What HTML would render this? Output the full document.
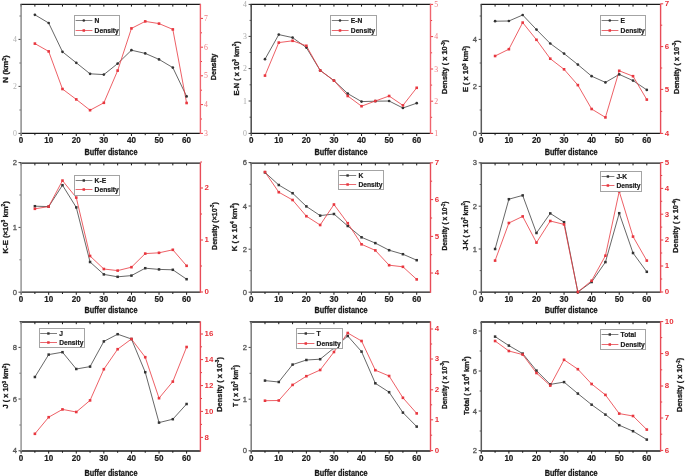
<!DOCTYPE html>
<html><head><meta charset="utf-8"><title>Buffer distance charts</title>
<style>
html,body{margin:0;padding:0;background:#fff;}
body{width:685px;height:476px;overflow:hidden;}
svg{display:block;will-change:transform;}
text{font-family:'Liberation Sans', sans-serif;}
.xt{font-size:8.8px;font-weight:bold;text-anchor:middle;fill:#1a1a1a;stroke:#1a1a1a;stroke-width:0.2px;}
.lt{font-size:7.6px;text-anchor:end;stroke-width:0.3px;}
.lts{font-size:7.8px;text-anchor:end;font-family:'Liberation Serif',serif;}
.rt{font-size:7.9px;font-weight:bold;text-anchor:start;}
.rts{font-size:7.8px;text-anchor:start;font-family:'Liberation Serif',serif;}
.lg{font-size:6.7px;font-weight:bold;fill:#1a1a1a;stroke:#1a1a1a;stroke-width:0.2px;}
.xl{font-size:8.2px;font-weight:bold;text-anchor:middle;fill:#1a1a1a;stroke:#1a1a1a;stroke-width:0.3px;}
.yt{font-weight:bold;text-anchor:middle;fill:#1a1a1a;stroke:#1a1a1a;stroke-width:0.3px;}
</style></head>
<body><svg width="685" height="476" viewBox="0 0 685 476">
<rect width="685" height="476" fill="#fff"/>
<g><line x1="21.1" y1="133.4" x2="21.1" y2="136" stroke="#1a1a1a" stroke-width="1"/>
<line x1="21.1" y1="4.4" x2="21.1" y2="6.6" stroke="#1a1a1a" stroke-width="1"/>
<text x="21.1" y="142.9" class="xt" textLength="4.5" lengthAdjust="spacingAndGlyphs">0</text>
<line x1="34.89" y1="133.4" x2="34.89" y2="135.2" stroke="#1a1a1a" stroke-width="1"/>
<line x1="34.89" y1="4.4" x2="34.89" y2="6.6" stroke="#1a1a1a" stroke-width="1"/>
<line x1="48.68" y1="133.4" x2="48.68" y2="136" stroke="#1a1a1a" stroke-width="1"/>
<line x1="48.68" y1="4.4" x2="48.68" y2="6.6" stroke="#1a1a1a" stroke-width="1"/>
<text x="48.68" y="142.9" class="xt" textLength="9" lengthAdjust="spacingAndGlyphs">10</text>
<line x1="62.48" y1="133.4" x2="62.48" y2="135.2" stroke="#1a1a1a" stroke-width="1"/>
<line x1="62.48" y1="4.4" x2="62.48" y2="6.6" stroke="#1a1a1a" stroke-width="1"/>
<line x1="76.27" y1="133.4" x2="76.27" y2="136" stroke="#1a1a1a" stroke-width="1"/>
<line x1="76.27" y1="4.4" x2="76.27" y2="6.6" stroke="#1a1a1a" stroke-width="1"/>
<text x="76.27" y="142.9" class="xt" textLength="9" lengthAdjust="spacingAndGlyphs">20</text>
<line x1="90.06" y1="133.4" x2="90.06" y2="135.2" stroke="#1a1a1a" stroke-width="1"/>
<line x1="90.06" y1="4.4" x2="90.06" y2="6.6" stroke="#1a1a1a" stroke-width="1"/>
<line x1="103.85" y1="133.4" x2="103.85" y2="136" stroke="#1a1a1a" stroke-width="1"/>
<line x1="103.85" y1="4.4" x2="103.85" y2="6.6" stroke="#1a1a1a" stroke-width="1"/>
<text x="103.85" y="142.9" class="xt" textLength="9" lengthAdjust="spacingAndGlyphs">30</text>
<line x1="117.65" y1="133.4" x2="117.65" y2="135.2" stroke="#1a1a1a" stroke-width="1"/>
<line x1="117.65" y1="4.4" x2="117.65" y2="6.6" stroke="#1a1a1a" stroke-width="1"/>
<line x1="131.44" y1="133.4" x2="131.44" y2="136" stroke="#1a1a1a" stroke-width="1"/>
<line x1="131.44" y1="4.4" x2="131.44" y2="6.6" stroke="#1a1a1a" stroke-width="1"/>
<text x="131.44" y="142.9" class="xt" textLength="9" lengthAdjust="spacingAndGlyphs">40</text>
<line x1="145.23" y1="133.4" x2="145.23" y2="135.2" stroke="#1a1a1a" stroke-width="1"/>
<line x1="145.23" y1="4.4" x2="145.23" y2="6.6" stroke="#1a1a1a" stroke-width="1"/>
<line x1="159.02" y1="133.4" x2="159.02" y2="136" stroke="#1a1a1a" stroke-width="1"/>
<line x1="159.02" y1="4.4" x2="159.02" y2="6.6" stroke="#1a1a1a" stroke-width="1"/>
<text x="159.02" y="142.9" class="xt" textLength="9" lengthAdjust="spacingAndGlyphs">50</text>
<line x1="172.82" y1="133.4" x2="172.82" y2="135.2" stroke="#1a1a1a" stroke-width="1"/>
<line x1="172.82" y1="4.4" x2="172.82" y2="6.6" stroke="#1a1a1a" stroke-width="1"/>
<line x1="186.61" y1="133.4" x2="186.61" y2="136" stroke="#1a1a1a" stroke-width="1"/>
<line x1="186.61" y1="4.4" x2="186.61" y2="6.6" stroke="#1a1a1a" stroke-width="1"/>
<text x="186.61" y="142.9" class="xt" textLength="9" lengthAdjust="spacingAndGlyphs">60</text>
<line x1="18.5" y1="133.4" x2="21.1" y2="133.4" stroke="#444" stroke-width="1"/>
<text x="16.9" y="136" class="lts" fill="#b0b0b0" stroke="none">0</text>
<line x1="18.5" y1="86.4" x2="21.1" y2="86.4" stroke="#444" stroke-width="1"/>
<text x="16.9" y="89" class="lts" fill="#b0b0b0" stroke="none">2</text>
<line x1="18.5" y1="39.4" x2="21.1" y2="39.4" stroke="#444" stroke-width="1"/>
<text x="16.9" y="42" class="lts" fill="#b0b0b0" stroke="none">4</text>
<line x1="19.5" y1="110" x2="21.1" y2="110" stroke="#555" stroke-width="1"/>
<line x1="19.5" y1="63" x2="21.1" y2="63" stroke="#555" stroke-width="1"/>
<line x1="19.5" y1="16" x2="21.1" y2="16" stroke="#555" stroke-width="1"/>
<line x1="200.4" y1="133.4" x2="203" y2="133.4" stroke="#e8373f" stroke-width="1"/>
<text x="204.1" y="135.9" class="rts" fill="#f07a80">3</text>
<line x1="200.4" y1="104.6" x2="203" y2="104.6" stroke="#e8373f" stroke-width="1"/>
<text x="204.1" y="107.1" class="rts" fill="#f07a80">4</text>
<line x1="200.4" y1="75.8" x2="203" y2="75.8" stroke="#e8373f" stroke-width="1"/>
<text x="204.1" y="78.3" class="rts" fill="#f07a80">5</text>
<line x1="200.4" y1="47.2" x2="203" y2="47.2" stroke="#e8373f" stroke-width="1"/>
<text x="204.1" y="49.7" class="rts" fill="#f07a80">6</text>
<line x1="200.4" y1="18.4" x2="203" y2="18.4" stroke="#e8373f" stroke-width="1"/>
<text x="204.1" y="20.9" class="rts" fill="#f07a80">7</text>
<line x1="200.4" y1="119" x2="202" y2="119" stroke="#e8373f" stroke-width="1"/>
<line x1="200.4" y1="90.2" x2="202" y2="90.2" stroke="#e8373f" stroke-width="1"/>
<line x1="200.4" y1="61.5" x2="202" y2="61.5" stroke="#e8373f" stroke-width="1"/>
<line x1="200.4" y1="32.8" x2="202" y2="32.8" stroke="#e8373f" stroke-width="1"/>
<line x1="20.5" y1="133.4" x2="200.4" y2="133.4" stroke="#1a1a1a" stroke-width="1.3"/>
<line x1="20.5" y1="4.4" x2="200.4" y2="4.4" stroke="#1a1a1a" stroke-width="1.3"/>
<line x1="21.1" y1="4.4" x2="21.1" y2="134" stroke="#8c8c8c" stroke-width="1.5"/>
<line x1="200.4" y1="3.8" x2="200.4" y2="134" stroke="#f0646e" stroke-width="1.4"/>
<polyline points="34.89,14.8 48.68,23 62.48,51.8 76.27,62.8 90.06,73.8 103.85,74.6 117.65,63.6 131.44,50.2 145.23,53.4 159.02,59.4 172.82,67.6 186.61,96.4" fill="none" stroke="#404040" stroke-width="0.8"/>
<polyline points="34.89,43.6 48.68,51.4 62.48,89 76.27,99.4 90.06,110.2 103.85,102.8 117.65,70.6 131.44,28.4 145.23,21.4 159.02,23.6 172.82,29.4 186.61,103" fill="none" stroke="#e8373f" stroke-width="0.8"/>
<circle cx="34.89" cy="14.8" r="1.35" fill="#333"/>
<circle cx="48.68" cy="23" r="1.35" fill="#333"/>
<circle cx="62.48" cy="51.8" r="1.35" fill="#333"/>
<circle cx="76.27" cy="62.8" r="1.35" fill="#333"/>
<circle cx="90.06" cy="73.8" r="1.35" fill="#333"/>
<circle cx="103.85" cy="74.6" r="1.35" fill="#333"/>
<circle cx="117.65" cy="63.6" r="1.35" fill="#333"/>
<circle cx="131.44" cy="50.2" r="1.35" fill="#333"/>
<circle cx="145.23" cy="53.4" r="1.35" fill="#333"/>
<circle cx="159.02" cy="59.4" r="1.35" fill="#333"/>
<circle cx="172.82" cy="67.6" r="1.35" fill="#333"/>
<circle cx="186.61" cy="96.4" r="1.35" fill="#333"/>
<rect x="33.59" y="42.3" width="2.6" height="2.6" fill="#e8373f"/>
<rect x="47.38" y="50.1" width="2.6" height="2.6" fill="#e8373f"/>
<rect x="61.18" y="87.7" width="2.6" height="2.6" fill="#e8373f"/>
<rect x="74.97" y="98.1" width="2.6" height="2.6" fill="#e8373f"/>
<rect x="88.76" y="108.9" width="2.6" height="2.6" fill="#e8373f"/>
<rect x="102.55" y="101.5" width="2.6" height="2.6" fill="#e8373f"/>
<rect x="116.35" y="69.3" width="2.6" height="2.6" fill="#e8373f"/>
<rect x="130.14" y="27.1" width="2.6" height="2.6" fill="#e8373f"/>
<rect x="143.93" y="20.1" width="2.6" height="2.6" fill="#e8373f"/>
<rect x="157.72" y="22.3" width="2.6" height="2.6" fill="#e8373f"/>
<rect x="171.52" y="28.1" width="2.6" height="2.6" fill="#e8373f"/>
<rect x="185.31" y="101.7" width="2.6" height="2.6" fill="#e8373f"/>
<rect x="74.5" y="15.5" width="45" height="20" fill="#fff" stroke="#a4a4a4" stroke-width="1"/>
<line x1="75.6" y1="20.5" x2="92.4" y2="20.5" stroke="#707070" stroke-width="0.9"/>
<circle cx="83.8" cy="20.5" r="1.3" fill="#333"/>
<line x1="75.6" y1="30.5" x2="92.4" y2="30.5" stroke="#e85860" stroke-width="0.9"/>
<rect x="82.55" y="29.25" width="2.5" height="2.5" fill="#e8373f"/>
<text x="94.6" y="23.1" class="lg">N</text>
<text x="94.6" y="33.1" class="lg">Density</text>
<text x="110.95" y="154.8" class="xl" textLength="53" lengthAdjust="spacingAndGlyphs">Buffer distance</text>
<text transform="translate(8.4,69) rotate(-90)" x="0" y="0" class="yt" font-size="7.8" textLength="27.4" lengthAdjust="spacingAndGlyphs"><tspan>N </tspan><tspan>(km</tspan><tspan dy="-2.81" font-size="4.84">2</tspan><tspan dy="2.81">)</tspan></text>
<text transform="translate(215.9,67) rotate(-90)" x="0" y="0" class="yt" font-size="7.8" textLength="26.4" lengthAdjust="spacingAndGlyphs"><tspan>Density</tspan></text></g>
<g><line x1="251.2" y1="133.4" x2="251.2" y2="136" stroke="#1a1a1a" stroke-width="1"/>
<line x1="251.2" y1="4.4" x2="251.2" y2="6.6" stroke="#1a1a1a" stroke-width="1"/>
<text x="251.2" y="142.9" class="xt" textLength="4.5" lengthAdjust="spacingAndGlyphs">0</text>
<line x1="264.99" y1="133.4" x2="264.99" y2="135.2" stroke="#1a1a1a" stroke-width="1"/>
<line x1="264.99" y1="4.4" x2="264.99" y2="6.6" stroke="#1a1a1a" stroke-width="1"/>
<line x1="278.78" y1="133.4" x2="278.78" y2="136" stroke="#1a1a1a" stroke-width="1"/>
<line x1="278.78" y1="4.4" x2="278.78" y2="6.6" stroke="#1a1a1a" stroke-width="1"/>
<text x="278.78" y="142.9" class="xt" textLength="9" lengthAdjust="spacingAndGlyphs">10</text>
<line x1="292.58" y1="133.4" x2="292.58" y2="135.2" stroke="#1a1a1a" stroke-width="1"/>
<line x1="292.58" y1="4.4" x2="292.58" y2="6.6" stroke="#1a1a1a" stroke-width="1"/>
<line x1="306.37" y1="133.4" x2="306.37" y2="136" stroke="#1a1a1a" stroke-width="1"/>
<line x1="306.37" y1="4.4" x2="306.37" y2="6.6" stroke="#1a1a1a" stroke-width="1"/>
<text x="306.37" y="142.9" class="xt" textLength="9" lengthAdjust="spacingAndGlyphs">20</text>
<line x1="320.16" y1="133.4" x2="320.16" y2="135.2" stroke="#1a1a1a" stroke-width="1"/>
<line x1="320.16" y1="4.4" x2="320.16" y2="6.6" stroke="#1a1a1a" stroke-width="1"/>
<line x1="333.95" y1="133.4" x2="333.95" y2="136" stroke="#1a1a1a" stroke-width="1"/>
<line x1="333.95" y1="4.4" x2="333.95" y2="6.6" stroke="#1a1a1a" stroke-width="1"/>
<text x="333.95" y="142.9" class="xt" textLength="9" lengthAdjust="spacingAndGlyphs">30</text>
<line x1="347.75" y1="133.4" x2="347.75" y2="135.2" stroke="#1a1a1a" stroke-width="1"/>
<line x1="347.75" y1="4.4" x2="347.75" y2="6.6" stroke="#1a1a1a" stroke-width="1"/>
<line x1="361.54" y1="133.4" x2="361.54" y2="136" stroke="#1a1a1a" stroke-width="1"/>
<line x1="361.54" y1="4.4" x2="361.54" y2="6.6" stroke="#1a1a1a" stroke-width="1"/>
<text x="361.54" y="142.9" class="xt" textLength="9" lengthAdjust="spacingAndGlyphs">40</text>
<line x1="375.33" y1="133.4" x2="375.33" y2="135.2" stroke="#1a1a1a" stroke-width="1"/>
<line x1="375.33" y1="4.4" x2="375.33" y2="6.6" stroke="#1a1a1a" stroke-width="1"/>
<line x1="389.12" y1="133.4" x2="389.12" y2="136" stroke="#1a1a1a" stroke-width="1"/>
<line x1="389.12" y1="4.4" x2="389.12" y2="6.6" stroke="#1a1a1a" stroke-width="1"/>
<text x="389.12" y="142.9" class="xt" textLength="9" lengthAdjust="spacingAndGlyphs">50</text>
<line x1="402.92" y1="133.4" x2="402.92" y2="135.2" stroke="#1a1a1a" stroke-width="1"/>
<line x1="402.92" y1="4.4" x2="402.92" y2="6.6" stroke="#1a1a1a" stroke-width="1"/>
<line x1="416.71" y1="133.4" x2="416.71" y2="136" stroke="#1a1a1a" stroke-width="1"/>
<line x1="416.71" y1="4.4" x2="416.71" y2="6.6" stroke="#1a1a1a" stroke-width="1"/>
<text x="416.71" y="142.9" class="xt" textLength="9" lengthAdjust="spacingAndGlyphs">60</text>
<line x1="248.6" y1="133.4" x2="251.2" y2="133.4" stroke="#444" stroke-width="1"/>
<text x="247" y="136" class="lts" fill="#a8a8a8" stroke="none">0</text>
<line x1="248.6" y1="101" x2="251.2" y2="101" stroke="#444" stroke-width="1"/>
<text x="247" y="103.6" class="lts" fill="#a8a8a8" stroke="none">1</text>
<line x1="248.6" y1="68.6" x2="251.2" y2="68.6" stroke="#444" stroke-width="1"/>
<text x="247" y="71.2" class="lts" fill="#a8a8a8" stroke="none">2</text>
<line x1="248.6" y1="36.4" x2="251.2" y2="36.4" stroke="#444" stroke-width="1"/>
<text x="247" y="39" class="lts" fill="#a8a8a8" stroke="none">3</text>
<line x1="248.6" y1="4.4" x2="251.2" y2="4.4" stroke="#444" stroke-width="1"/>
<text x="247" y="7" class="lts" fill="#a8a8a8" stroke="none">4</text>
<line x1="249.6" y1="117.2" x2="251.2" y2="117.2" stroke="#555" stroke-width="1"/>
<line x1="249.6" y1="84.8" x2="251.2" y2="84.8" stroke="#555" stroke-width="1"/>
<line x1="249.6" y1="52.5" x2="251.2" y2="52.5" stroke="#555" stroke-width="1"/>
<line x1="249.6" y1="20.4" x2="251.2" y2="20.4" stroke="#555" stroke-width="1"/>
<line x1="430.5" y1="133.4" x2="433.1" y2="133.4" stroke="#e8373f" stroke-width="1"/>
<text x="434.2" y="135.9" class="rts" fill="#f07a80">1</text>
<line x1="430.5" y1="101.2" x2="433.1" y2="101.2" stroke="#e8373f" stroke-width="1"/>
<text x="434.2" y="103.7" class="rts" fill="#f07a80">2</text>
<line x1="430.5" y1="69" x2="433.1" y2="69" stroke="#e8373f" stroke-width="1"/>
<text x="434.2" y="71.5" class="rts" fill="#f07a80">3</text>
<line x1="430.5" y1="36.6" x2="433.1" y2="36.6" stroke="#e8373f" stroke-width="1"/>
<text x="434.2" y="39.1" class="rts" fill="#f07a80">4</text>
<line x1="430.5" y1="4.4" x2="433.1" y2="4.4" stroke="#e8373f" stroke-width="1"/>
<text x="434.2" y="6.9" class="rts" fill="#f07a80">5</text>
<line x1="430.5" y1="117.3" x2="432.1" y2="117.3" stroke="#e8373f" stroke-width="1"/>
<line x1="430.5" y1="85.1" x2="432.1" y2="85.1" stroke="#e8373f" stroke-width="1"/>
<line x1="430.5" y1="52.8" x2="432.1" y2="52.8" stroke="#e8373f" stroke-width="1"/>
<line x1="430.5" y1="20.5" x2="432.1" y2="20.5" stroke="#e8373f" stroke-width="1"/>
<line x1="250.6" y1="133.4" x2="430.5" y2="133.4" stroke="#1a1a1a" stroke-width="1.3"/>
<line x1="250.6" y1="4.4" x2="430.5" y2="4.4" stroke="#1a1a1a" stroke-width="1.3"/>
<line x1="251.2" y1="4.4" x2="251.2" y2="134" stroke="#4a4a4a" stroke-width="1.5"/>
<line x1="430.5" y1="3.8" x2="430.5" y2="134" stroke="#f0646e" stroke-width="1.4"/>
<polyline points="264.99,59.2 278.78,34.6 292.58,37.6 306.37,47.6 320.16,70.4 333.95,80.6 347.75,93.6 361.54,101.6 375.33,101.2 389.12,101 402.92,108 416.71,103.2" fill="none" stroke="#404040" stroke-width="0.8"/>
<polyline points="264.99,75.6 278.78,42.6 292.58,40.8 306.37,45.8 320.16,70.4 333.95,80.6 347.75,96 361.54,106.2 375.33,101 389.12,96 402.92,105.4 416.71,87.8" fill="none" stroke="#e8373f" stroke-width="0.8"/>
<circle cx="264.99" cy="59.2" r="1.35" fill="#333"/>
<circle cx="278.78" cy="34.6" r="1.35" fill="#333"/>
<circle cx="292.58" cy="37.6" r="1.35" fill="#333"/>
<circle cx="306.37" cy="47.6" r="1.35" fill="#333"/>
<circle cx="320.16" cy="70.4" r="1.35" fill="#333"/>
<circle cx="333.95" cy="80.6" r="1.35" fill="#333"/>
<circle cx="347.75" cy="93.6" r="1.35" fill="#333"/>
<circle cx="361.54" cy="101.6" r="1.35" fill="#333"/>
<circle cx="375.33" cy="101.2" r="1.35" fill="#333"/>
<circle cx="389.12" cy="101" r="1.35" fill="#333"/>
<circle cx="402.92" cy="108" r="1.35" fill="#333"/>
<circle cx="416.71" cy="103.2" r="1.35" fill="#333"/>
<rect x="263.69" y="74.3" width="2.6" height="2.6" fill="#e8373f"/>
<rect x="277.48" y="41.3" width="2.6" height="2.6" fill="#e8373f"/>
<rect x="291.28" y="39.5" width="2.6" height="2.6" fill="#e8373f"/>
<rect x="305.07" y="44.5" width="2.6" height="2.6" fill="#e8373f"/>
<rect x="318.86" y="69.1" width="2.6" height="2.6" fill="#e8373f"/>
<rect x="332.65" y="79.3" width="2.6" height="2.6" fill="#e8373f"/>
<rect x="346.45" y="94.7" width="2.6" height="2.6" fill="#e8373f"/>
<rect x="360.24" y="104.9" width="2.6" height="2.6" fill="#e8373f"/>
<rect x="374.03" y="99.7" width="2.6" height="2.6" fill="#e8373f"/>
<rect x="387.82" y="94.7" width="2.6" height="2.6" fill="#e8373f"/>
<rect x="401.62" y="104.1" width="2.6" height="2.6" fill="#e8373f"/>
<rect x="415.41" y="86.5" width="2.6" height="2.6" fill="#e8373f"/>
<rect x="330.5" y="15.5" width="46" height="20" fill="#fff" stroke="#a4a4a4" stroke-width="1"/>
<line x1="331.8" y1="20.5" x2="348.6" y2="20.5" stroke="#707070" stroke-width="0.9"/>
<circle cx="340" cy="20.5" r="1.3" fill="#333"/>
<line x1="331.8" y1="30.5" x2="348.6" y2="30.5" stroke="#e85860" stroke-width="0.9"/>
<rect x="338.75" y="29.25" width="2.5" height="2.5" fill="#e8373f"/>
<text x="350.8" y="23.1" class="lg">E-N</text>
<text x="350.8" y="33.1" class="lg">Density</text>
<text x="341.05" y="154.8" class="xl" textLength="53" lengthAdjust="spacingAndGlyphs">Buffer distance</text>
<text transform="translate(238.7,68.45) rotate(-90)" x="0" y="0" class="yt" font-size="7.8" textLength="54.3" lengthAdjust="spacingAndGlyphs"><tspan>E-N ( x 10</tspan><tspan dy="-2.81" font-size="4.84">3</tspan><tspan dy="2.81"> km</tspan><tspan dy="-2.81" font-size="4.84">2</tspan><tspan dy="2.81">)</tspan></text>
<text transform="translate(447.4,66.95) rotate(-90)" x="0" y="0" class="yt" font-size="7.8" textLength="54.3" lengthAdjust="spacingAndGlyphs"><tspan>Density ( x 10</tspan><tspan dy="-2.81" font-size="4.84">-3</tspan><tspan dy="2.81">)</tspan></text></g>
<g><line x1="481.3" y1="133.4" x2="481.3" y2="136" stroke="#1a1a1a" stroke-width="1"/>
<line x1="481.3" y1="4.4" x2="481.3" y2="6.6" stroke="#1a1a1a" stroke-width="1"/>
<text x="481.3" y="142.9" class="xt" textLength="4.5" lengthAdjust="spacingAndGlyphs">0</text>
<line x1="495.09" y1="133.4" x2="495.09" y2="135.2" stroke="#1a1a1a" stroke-width="1"/>
<line x1="495.09" y1="4.4" x2="495.09" y2="6.6" stroke="#1a1a1a" stroke-width="1"/>
<line x1="508.88" y1="133.4" x2="508.88" y2="136" stroke="#1a1a1a" stroke-width="1"/>
<line x1="508.88" y1="4.4" x2="508.88" y2="6.6" stroke="#1a1a1a" stroke-width="1"/>
<text x="508.88" y="142.9" class="xt" textLength="9" lengthAdjust="spacingAndGlyphs">10</text>
<line x1="522.68" y1="133.4" x2="522.68" y2="135.2" stroke="#1a1a1a" stroke-width="1"/>
<line x1="522.68" y1="4.4" x2="522.68" y2="6.6" stroke="#1a1a1a" stroke-width="1"/>
<line x1="536.47" y1="133.4" x2="536.47" y2="136" stroke="#1a1a1a" stroke-width="1"/>
<line x1="536.47" y1="4.4" x2="536.47" y2="6.6" stroke="#1a1a1a" stroke-width="1"/>
<text x="536.47" y="142.9" class="xt" textLength="9" lengthAdjust="spacingAndGlyphs">20</text>
<line x1="550.26" y1="133.4" x2="550.26" y2="135.2" stroke="#1a1a1a" stroke-width="1"/>
<line x1="550.26" y1="4.4" x2="550.26" y2="6.6" stroke="#1a1a1a" stroke-width="1"/>
<line x1="564.05" y1="133.4" x2="564.05" y2="136" stroke="#1a1a1a" stroke-width="1"/>
<line x1="564.05" y1="4.4" x2="564.05" y2="6.6" stroke="#1a1a1a" stroke-width="1"/>
<text x="564.05" y="142.9" class="xt" textLength="9" lengthAdjust="spacingAndGlyphs">30</text>
<line x1="577.85" y1="133.4" x2="577.85" y2="135.2" stroke="#1a1a1a" stroke-width="1"/>
<line x1="577.85" y1="4.4" x2="577.85" y2="6.6" stroke="#1a1a1a" stroke-width="1"/>
<line x1="591.64" y1="133.4" x2="591.64" y2="136" stroke="#1a1a1a" stroke-width="1"/>
<line x1="591.64" y1="4.4" x2="591.64" y2="6.6" stroke="#1a1a1a" stroke-width="1"/>
<text x="591.64" y="142.9" class="xt" textLength="9" lengthAdjust="spacingAndGlyphs">40</text>
<line x1="605.43" y1="133.4" x2="605.43" y2="135.2" stroke="#1a1a1a" stroke-width="1"/>
<line x1="605.43" y1="4.4" x2="605.43" y2="6.6" stroke="#1a1a1a" stroke-width="1"/>
<line x1="619.22" y1="133.4" x2="619.22" y2="136" stroke="#1a1a1a" stroke-width="1"/>
<line x1="619.22" y1="4.4" x2="619.22" y2="6.6" stroke="#1a1a1a" stroke-width="1"/>
<text x="619.22" y="142.9" class="xt" textLength="9" lengthAdjust="spacingAndGlyphs">50</text>
<line x1="633.02" y1="133.4" x2="633.02" y2="135.2" stroke="#1a1a1a" stroke-width="1"/>
<line x1="633.02" y1="4.4" x2="633.02" y2="6.6" stroke="#1a1a1a" stroke-width="1"/>
<line x1="646.81" y1="133.4" x2="646.81" y2="136" stroke="#1a1a1a" stroke-width="1"/>
<line x1="646.81" y1="4.4" x2="646.81" y2="6.6" stroke="#1a1a1a" stroke-width="1"/>
<text x="646.81" y="142.9" class="xt" textLength="9" lengthAdjust="spacingAndGlyphs">60</text>
<line x1="478.7" y1="133.4" x2="481.3" y2="133.4" stroke="#444" stroke-width="1"/>
<text x="477.1" y="136" class="lt" fill="#555555" stroke="#555555">0</text>
<line x1="478.7" y1="86.4" x2="481.3" y2="86.4" stroke="#444" stroke-width="1"/>
<text x="477.1" y="89" class="lt" fill="#555555" stroke="#555555">2</text>
<line x1="478.7" y1="39.4" x2="481.3" y2="39.4" stroke="#444" stroke-width="1"/>
<text x="477.1" y="42" class="lt" fill="#555555" stroke="#555555">4</text>
<line x1="479.7" y1="110" x2="481.3" y2="110" stroke="#555" stroke-width="1"/>
<line x1="479.7" y1="63" x2="481.3" y2="63" stroke="#555" stroke-width="1"/>
<line x1="479.7" y1="16" x2="481.3" y2="16" stroke="#555" stroke-width="1"/>
<line x1="660.6" y1="133.4" x2="663.2" y2="133.4" stroke="#e8373f" stroke-width="1"/>
<text x="664.8" y="135.8" class="rt" fill="#e8323a">4</text>
<line x1="660.6" y1="89.4" x2="663.2" y2="89.4" stroke="#e8373f" stroke-width="1"/>
<text x="664.8" y="91.8" class="rt" fill="#e8323a">5</text>
<line x1="660.6" y1="46.6" x2="663.2" y2="46.6" stroke="#e8373f" stroke-width="1"/>
<text x="664.8" y="49" class="rt" fill="#e8323a">6</text>
<line x1="660.6" y1="3.8" x2="663.2" y2="3.8" stroke="#e8373f" stroke-width="1"/>
<text x="664.8" y="6.2" class="rt" fill="#e8323a">7</text>
<line x1="660.6" y1="111.4" x2="662.2" y2="111.4" stroke="#e8373f" stroke-width="1"/>
<line x1="660.6" y1="68" x2="662.2" y2="68" stroke="#e8373f" stroke-width="1"/>
<line x1="660.6" y1="25.2" x2="662.2" y2="25.2" stroke="#e8373f" stroke-width="1"/>
<line x1="480.7" y1="133.4" x2="660.6" y2="133.4" stroke="#1a1a1a" stroke-width="1.3"/>
<line x1="480.7" y1="4.4" x2="660.6" y2="4.4" stroke="#1a1a1a" stroke-width="1.3"/>
<line x1="481.3" y1="4.4" x2="481.3" y2="134" stroke="#5a5a5a" stroke-width="1.5"/>
<line x1="660.6" y1="3.8" x2="660.6" y2="134" stroke="#e84c58" stroke-width="1.4"/>
<polyline points="495.09,21.2 508.88,21 522.68,15 536.47,29.6 550.26,43.5 564.05,53.6 577.85,64.6 591.64,76.2 605.43,82.4 619.22,74.4 633.02,80.6 646.81,89.9" fill="none" stroke="#404040" stroke-width="0.8"/>
<polyline points="495.09,56 508.88,49.2 522.68,22.6 536.47,39.8 550.26,58.7 564.05,69.3 577.85,85.1 591.64,109 605.43,117.4 619.22,70.8 633.02,76.2 646.81,99.6" fill="none" stroke="#e8373f" stroke-width="0.8"/>
<circle cx="495.09" cy="21.2" r="1.35" fill="#333"/>
<circle cx="508.88" cy="21" r="1.35" fill="#333"/>
<circle cx="522.68" cy="15" r="1.35" fill="#333"/>
<circle cx="536.47" cy="29.6" r="1.35" fill="#333"/>
<circle cx="550.26" cy="43.5" r="1.35" fill="#333"/>
<circle cx="564.05" cy="53.6" r="1.35" fill="#333"/>
<circle cx="577.85" cy="64.6" r="1.35" fill="#333"/>
<circle cx="591.64" cy="76.2" r="1.35" fill="#333"/>
<circle cx="605.43" cy="82.4" r="1.35" fill="#333"/>
<circle cx="619.22" cy="74.4" r="1.35" fill="#333"/>
<circle cx="633.02" cy="80.6" r="1.35" fill="#333"/>
<circle cx="646.81" cy="89.9" r="1.35" fill="#333"/>
<rect x="493.79" y="54.7" width="2.6" height="2.6" fill="#e8373f"/>
<rect x="507.58" y="47.9" width="2.6" height="2.6" fill="#e8373f"/>
<rect x="521.38" y="21.3" width="2.6" height="2.6" fill="#e8373f"/>
<rect x="535.17" y="38.5" width="2.6" height="2.6" fill="#e8373f"/>
<rect x="548.96" y="57.4" width="2.6" height="2.6" fill="#e8373f"/>
<rect x="562.75" y="68" width="2.6" height="2.6" fill="#e8373f"/>
<rect x="576.55" y="83.8" width="2.6" height="2.6" fill="#e8373f"/>
<rect x="590.34" y="107.7" width="2.6" height="2.6" fill="#e8373f"/>
<rect x="604.13" y="116.1" width="2.6" height="2.6" fill="#e8373f"/>
<rect x="617.92" y="69.5" width="2.6" height="2.6" fill="#e8373f"/>
<rect x="631.72" y="74.9" width="2.6" height="2.6" fill="#e8373f"/>
<rect x="645.51" y="98.3" width="2.6" height="2.6" fill="#e8373f"/>
<rect x="600.5" y="15.5" width="45" height="20" fill="#fff" stroke="#a4a4a4" stroke-width="1"/>
<line x1="601.6" y1="20.5" x2="618.4" y2="20.5" stroke="#707070" stroke-width="0.9"/>
<circle cx="609.8" cy="20.5" r="1.3" fill="#333"/>
<line x1="601.6" y1="30.5" x2="618.4" y2="30.5" stroke="#e85860" stroke-width="0.9"/>
<rect x="608.55" y="29.25" width="2.5" height="2.5" fill="#e8373f"/>
<text x="620.6" y="23.1" class="lg">E</text>
<text x="620.6" y="33.1" class="lg">Density</text>
<text x="571.15" y="154.8" class="xl" textLength="53" lengthAdjust="spacingAndGlyphs">Buffer distance</text>
<text transform="translate(468.3,68.8) rotate(-90)" x="0" y="0" class="yt" font-size="7.8" textLength="46.2" lengthAdjust="spacingAndGlyphs"><tspan>E ( x 10</tspan><tspan dy="-2.81" font-size="4.84">3</tspan><tspan dy="2.81"> km</tspan><tspan dy="-2.81" font-size="4.84">2</tspan><tspan dy="2.81">)</tspan></text>
<text transform="translate(678.7,67.2) rotate(-90)" x="0" y="0" class="yt" font-size="7.8" textLength="53.8" lengthAdjust="spacingAndGlyphs"><tspan>Density ( x 10</tspan><tspan dy="-2.81" font-size="4.84">-3</tspan><tspan dy="2.81">)</tspan></text></g>
<g><line x1="21.1" y1="292.2" x2="21.1" y2="294.8" stroke="#1a1a1a" stroke-width="1"/>
<line x1="21.1" y1="163.2" x2="21.1" y2="165.4" stroke="#1a1a1a" stroke-width="1"/>
<text x="21.1" y="301.7" class="xt" textLength="4.5" lengthAdjust="spacingAndGlyphs">0</text>
<line x1="34.89" y1="292.2" x2="34.89" y2="294" stroke="#1a1a1a" stroke-width="1"/>
<line x1="34.89" y1="163.2" x2="34.89" y2="165.4" stroke="#1a1a1a" stroke-width="1"/>
<line x1="48.68" y1="292.2" x2="48.68" y2="294.8" stroke="#1a1a1a" stroke-width="1"/>
<line x1="48.68" y1="163.2" x2="48.68" y2="165.4" stroke="#1a1a1a" stroke-width="1"/>
<text x="48.68" y="301.7" class="xt" textLength="9" lengthAdjust="spacingAndGlyphs">10</text>
<line x1="62.48" y1="292.2" x2="62.48" y2="294" stroke="#1a1a1a" stroke-width="1"/>
<line x1="62.48" y1="163.2" x2="62.48" y2="165.4" stroke="#1a1a1a" stroke-width="1"/>
<line x1="76.27" y1="292.2" x2="76.27" y2="294.8" stroke="#1a1a1a" stroke-width="1"/>
<line x1="76.27" y1="163.2" x2="76.27" y2="165.4" stroke="#1a1a1a" stroke-width="1"/>
<text x="76.27" y="301.7" class="xt" textLength="9" lengthAdjust="spacingAndGlyphs">20</text>
<line x1="90.06" y1="292.2" x2="90.06" y2="294" stroke="#1a1a1a" stroke-width="1"/>
<line x1="90.06" y1="163.2" x2="90.06" y2="165.4" stroke="#1a1a1a" stroke-width="1"/>
<line x1="103.85" y1="292.2" x2="103.85" y2="294.8" stroke="#1a1a1a" stroke-width="1"/>
<line x1="103.85" y1="163.2" x2="103.85" y2="165.4" stroke="#1a1a1a" stroke-width="1"/>
<text x="103.85" y="301.7" class="xt" textLength="9" lengthAdjust="spacingAndGlyphs">30</text>
<line x1="117.65" y1="292.2" x2="117.65" y2="294" stroke="#1a1a1a" stroke-width="1"/>
<line x1="117.65" y1="163.2" x2="117.65" y2="165.4" stroke="#1a1a1a" stroke-width="1"/>
<line x1="131.44" y1="292.2" x2="131.44" y2="294.8" stroke="#1a1a1a" stroke-width="1"/>
<line x1="131.44" y1="163.2" x2="131.44" y2="165.4" stroke="#1a1a1a" stroke-width="1"/>
<text x="131.44" y="301.7" class="xt" textLength="9" lengthAdjust="spacingAndGlyphs">40</text>
<line x1="145.23" y1="292.2" x2="145.23" y2="294" stroke="#1a1a1a" stroke-width="1"/>
<line x1="145.23" y1="163.2" x2="145.23" y2="165.4" stroke="#1a1a1a" stroke-width="1"/>
<line x1="159.02" y1="292.2" x2="159.02" y2="294.8" stroke="#1a1a1a" stroke-width="1"/>
<line x1="159.02" y1="163.2" x2="159.02" y2="165.4" stroke="#1a1a1a" stroke-width="1"/>
<text x="159.02" y="301.7" class="xt" textLength="9" lengthAdjust="spacingAndGlyphs">50</text>
<line x1="172.82" y1="292.2" x2="172.82" y2="294" stroke="#1a1a1a" stroke-width="1"/>
<line x1="172.82" y1="163.2" x2="172.82" y2="165.4" stroke="#1a1a1a" stroke-width="1"/>
<line x1="186.61" y1="292.2" x2="186.61" y2="294.8" stroke="#1a1a1a" stroke-width="1"/>
<line x1="186.61" y1="163.2" x2="186.61" y2="165.4" stroke="#1a1a1a" stroke-width="1"/>
<text x="186.61" y="301.7" class="xt" textLength="9" lengthAdjust="spacingAndGlyphs">60</text>
<line x1="18.5" y1="292.2" x2="21.1" y2="292.2" stroke="#444" stroke-width="1"/>
<text x="16.9" y="294.8" class="lt" fill="#555555" stroke="#555555">0</text>
<line x1="18.5" y1="227.4" x2="21.1" y2="227.4" stroke="#444" stroke-width="1"/>
<text x="16.9" y="230" class="lt" fill="#555555" stroke="#555555">1</text>
<line x1="18.5" y1="162.6" x2="21.1" y2="162.6" stroke="#444" stroke-width="1"/>
<text x="16.9" y="165.2" class="lt" fill="#555555" stroke="#555555">2</text>
<line x1="19.5" y1="259.8" x2="21.1" y2="259.8" stroke="#555" stroke-width="1"/>
<line x1="19.5" y1="195" x2="21.1" y2="195" stroke="#555" stroke-width="1"/>
<line x1="200.4" y1="292" x2="203" y2="292" stroke="#e8373f" stroke-width="1"/>
<text x="204.6" y="294.4" class="rt" fill="#e8323a">0</text>
<line x1="200.4" y1="240" x2="203" y2="240" stroke="#e8373f" stroke-width="1"/>
<text x="204.6" y="242.4" class="rt" fill="#e8323a">1</text>
<line x1="200.4" y1="188" x2="203" y2="188" stroke="#e8373f" stroke-width="1"/>
<text x="204.6" y="190.4" class="rt" fill="#e8323a">2</text>
<line x1="200.4" y1="266" x2="202" y2="266" stroke="#e8373f" stroke-width="1"/>
<line x1="200.4" y1="214" x2="202" y2="214" stroke="#e8373f" stroke-width="1"/>
<line x1="200.4" y1="162" x2="202" y2="162" stroke="#e8373f" stroke-width="1"/>
<line x1="20.5" y1="292.2" x2="200.4" y2="292.2" stroke="#1a1a1a" stroke-width="1.3"/>
<line x1="20.5" y1="163.2" x2="200.4" y2="163.2" stroke="#1a1a1a" stroke-width="1.3"/>
<line x1="21.1" y1="163.2" x2="21.1" y2="292.8" stroke="#959595" stroke-width="1.5"/>
<line x1="200.4" y1="162.6" x2="200.4" y2="292.8" stroke="#e84c58" stroke-width="1.4"/>
<polyline points="34.89,206.2 48.68,206.6 62.48,185.2 76.27,207.4 90.06,262 103.85,274.4 117.65,276.8 131.44,275.6 145.23,268.2 159.02,269.4 172.82,269.8 186.61,279.2" fill="none" stroke="#404040" stroke-width="0.8"/>
<polyline points="34.89,208.8 48.68,206.6 62.48,180.6 76.27,197.6 90.06,256 103.85,269 117.65,270.6 131.44,267.2 145.23,253.6 159.02,252.8 172.82,249.8 186.61,265.8" fill="none" stroke="#e8373f" stroke-width="0.8"/>
<rect x="33.64" y="204.95" width="2.5" height="2.5" fill="#333"/>
<rect x="47.43" y="205.35" width="2.5" height="2.5" fill="#333"/>
<rect x="61.23" y="183.95" width="2.5" height="2.5" fill="#333"/>
<rect x="75.02" y="206.15" width="2.5" height="2.5" fill="#333"/>
<rect x="88.81" y="260.75" width="2.5" height="2.5" fill="#333"/>
<rect x="102.6" y="273.15" width="2.5" height="2.5" fill="#333"/>
<rect x="116.4" y="275.55" width="2.5" height="2.5" fill="#333"/>
<rect x="130.19" y="274.35" width="2.5" height="2.5" fill="#333"/>
<rect x="143.98" y="266.95" width="2.5" height="2.5" fill="#333"/>
<rect x="157.77" y="268.15" width="2.5" height="2.5" fill="#333"/>
<rect x="171.57" y="268.55" width="2.5" height="2.5" fill="#333"/>
<rect x="185.36" y="277.95" width="2.5" height="2.5" fill="#333"/>
<rect x="33.59" y="207.5" width="2.6" height="2.6" fill="#e8373f"/>
<rect x="47.38" y="205.3" width="2.6" height="2.6" fill="#e8373f"/>
<rect x="61.18" y="179.3" width="2.6" height="2.6" fill="#e8373f"/>
<rect x="74.97" y="196.3" width="2.6" height="2.6" fill="#e8373f"/>
<rect x="88.76" y="254.7" width="2.6" height="2.6" fill="#e8373f"/>
<rect x="102.55" y="267.7" width="2.6" height="2.6" fill="#e8373f"/>
<rect x="116.35" y="269.3" width="2.6" height="2.6" fill="#e8373f"/>
<rect x="130.14" y="265.9" width="2.6" height="2.6" fill="#e8373f"/>
<rect x="143.93" y="252.3" width="2.6" height="2.6" fill="#e8373f"/>
<rect x="157.72" y="251.5" width="2.6" height="2.6" fill="#e8373f"/>
<rect x="171.52" y="248.5" width="2.6" height="2.6" fill="#e8373f"/>
<rect x="185.31" y="264.5" width="2.6" height="2.6" fill="#e8373f"/>
<rect x="74.5" y="175.5" width="45" height="20" fill="#fff" stroke="#a4a4a4" stroke-width="1"/>
<line x1="75.6" y1="180.5" x2="92.4" y2="180.5" stroke="#707070" stroke-width="0.9"/>
<rect x="82.6" y="179.3" width="2.4" height="2.4" fill="#333"/>
<line x1="75.6" y1="189.5" x2="92.4" y2="189.5" stroke="#e85860" stroke-width="0.9"/>
<rect x="82.55" y="188.25" width="2.5" height="2.5" fill="#e8373f"/>
<text x="94.6" y="183.1" class="lg">K-E</text>
<text x="94.6" y="192.1" class="lg">Density</text>
<text x="110.95" y="312.6" class="xl" textLength="53" lengthAdjust="spacingAndGlyphs">Buffer distance</text>
<text transform="translate(8,227.35) rotate(-90)" x="0" y="0" class="yt" font-size="7.8" textLength="52.3" lengthAdjust="spacingAndGlyphs"><tspan>K-E (×10</tspan><tspan dy="-2.81" font-size="4.84">3</tspan><tspan dy="2.81"> km</tspan><tspan dy="-2.81" font-size="4.84">2</tspan><tspan dy="2.81">)</tspan></text>
<text transform="translate(217.1,226.05) rotate(-90)" x="0" y="0" class="yt" font-size="7.8" textLength="47.7" lengthAdjust="spacingAndGlyphs"><tspan>Density (×10</tspan><tspan dy="-2.81" font-size="4.84">-3</tspan><tspan dy="2.81">)</tspan></text></g>
<g><line x1="251.2" y1="292.2" x2="251.2" y2="294.8" stroke="#1a1a1a" stroke-width="1"/>
<line x1="251.2" y1="163.2" x2="251.2" y2="165.4" stroke="#1a1a1a" stroke-width="1"/>
<text x="251.2" y="301.7" class="xt" textLength="4.5" lengthAdjust="spacingAndGlyphs">0</text>
<line x1="264.99" y1="292.2" x2="264.99" y2="294" stroke="#1a1a1a" stroke-width="1"/>
<line x1="264.99" y1="163.2" x2="264.99" y2="165.4" stroke="#1a1a1a" stroke-width="1"/>
<line x1="278.78" y1="292.2" x2="278.78" y2="294.8" stroke="#1a1a1a" stroke-width="1"/>
<line x1="278.78" y1="163.2" x2="278.78" y2="165.4" stroke="#1a1a1a" stroke-width="1"/>
<text x="278.78" y="301.7" class="xt" textLength="9" lengthAdjust="spacingAndGlyphs">10</text>
<line x1="292.58" y1="292.2" x2="292.58" y2="294" stroke="#1a1a1a" stroke-width="1"/>
<line x1="292.58" y1="163.2" x2="292.58" y2="165.4" stroke="#1a1a1a" stroke-width="1"/>
<line x1="306.37" y1="292.2" x2="306.37" y2="294.8" stroke="#1a1a1a" stroke-width="1"/>
<line x1="306.37" y1="163.2" x2="306.37" y2="165.4" stroke="#1a1a1a" stroke-width="1"/>
<text x="306.37" y="301.7" class="xt" textLength="9" lengthAdjust="spacingAndGlyphs">20</text>
<line x1="320.16" y1="292.2" x2="320.16" y2="294" stroke="#1a1a1a" stroke-width="1"/>
<line x1="320.16" y1="163.2" x2="320.16" y2="165.4" stroke="#1a1a1a" stroke-width="1"/>
<line x1="333.95" y1="292.2" x2="333.95" y2="294.8" stroke="#1a1a1a" stroke-width="1"/>
<line x1="333.95" y1="163.2" x2="333.95" y2="165.4" stroke="#1a1a1a" stroke-width="1"/>
<text x="333.95" y="301.7" class="xt" textLength="9" lengthAdjust="spacingAndGlyphs">30</text>
<line x1="347.75" y1="292.2" x2="347.75" y2="294" stroke="#1a1a1a" stroke-width="1"/>
<line x1="347.75" y1="163.2" x2="347.75" y2="165.4" stroke="#1a1a1a" stroke-width="1"/>
<line x1="361.54" y1="292.2" x2="361.54" y2="294.8" stroke="#1a1a1a" stroke-width="1"/>
<line x1="361.54" y1="163.2" x2="361.54" y2="165.4" stroke="#1a1a1a" stroke-width="1"/>
<text x="361.54" y="301.7" class="xt" textLength="9" lengthAdjust="spacingAndGlyphs">40</text>
<line x1="375.33" y1="292.2" x2="375.33" y2="294" stroke="#1a1a1a" stroke-width="1"/>
<line x1="375.33" y1="163.2" x2="375.33" y2="165.4" stroke="#1a1a1a" stroke-width="1"/>
<line x1="389.12" y1="292.2" x2="389.12" y2="294.8" stroke="#1a1a1a" stroke-width="1"/>
<line x1="389.12" y1="163.2" x2="389.12" y2="165.4" stroke="#1a1a1a" stroke-width="1"/>
<text x="389.12" y="301.7" class="xt" textLength="9" lengthAdjust="spacingAndGlyphs">50</text>
<line x1="402.92" y1="292.2" x2="402.92" y2="294" stroke="#1a1a1a" stroke-width="1"/>
<line x1="402.92" y1="163.2" x2="402.92" y2="165.4" stroke="#1a1a1a" stroke-width="1"/>
<line x1="416.71" y1="292.2" x2="416.71" y2="294.8" stroke="#1a1a1a" stroke-width="1"/>
<line x1="416.71" y1="163.2" x2="416.71" y2="165.4" stroke="#1a1a1a" stroke-width="1"/>
<text x="416.71" y="301.7" class="xt" textLength="9" lengthAdjust="spacingAndGlyphs">60</text>
<line x1="248.6" y1="292.2" x2="251.2" y2="292.2" stroke="#444" stroke-width="1"/>
<text x="247" y="294.8" class="lt" fill="#555555" stroke="#555555">0</text>
<line x1="248.6" y1="249.2" x2="251.2" y2="249.2" stroke="#444" stroke-width="1"/>
<text x="247" y="251.8" class="lt" fill="#555555" stroke="#555555">2</text>
<line x1="248.6" y1="206" x2="251.2" y2="206" stroke="#444" stroke-width="1"/>
<text x="247" y="208.6" class="lt" fill="#555555" stroke="#555555">4</text>
<line x1="248.6" y1="162.6" x2="251.2" y2="162.6" stroke="#444" stroke-width="1"/>
<text x="247" y="165.2" class="lt" fill="#555555" stroke="#555555">6</text>
<line x1="249.6" y1="270.7" x2="251.2" y2="270.7" stroke="#555" stroke-width="1"/>
<line x1="249.6" y1="227.6" x2="251.2" y2="227.6" stroke="#555" stroke-width="1"/>
<line x1="249.6" y1="184.3" x2="251.2" y2="184.3" stroke="#555" stroke-width="1"/>
<line x1="430.5" y1="273" x2="433.1" y2="273" stroke="#e8373f" stroke-width="1"/>
<text x="434.7" y="275.4" class="rt" fill="#e8323a">4</text>
<line x1="430.5" y1="236.4" x2="433.1" y2="236.4" stroke="#e8373f" stroke-width="1"/>
<text x="434.7" y="238.8" class="rt" fill="#e8323a">5</text>
<line x1="430.5" y1="199.6" x2="433.1" y2="199.6" stroke="#e8373f" stroke-width="1"/>
<text x="434.7" y="202" class="rt" fill="#e8323a">6</text>
<line x1="430.5" y1="162.8" x2="433.1" y2="162.8" stroke="#e8373f" stroke-width="1"/>
<text x="434.7" y="165.2" class="rt" fill="#e8323a">7</text>
<line x1="430.5" y1="254.7" x2="432.1" y2="254.7" stroke="#e8373f" stroke-width="1"/>
<line x1="430.5" y1="218" x2="432.1" y2="218" stroke="#e8373f" stroke-width="1"/>
<line x1="430.5" y1="181.2" x2="432.1" y2="181.2" stroke="#e8373f" stroke-width="1"/>
<line x1="250.6" y1="292.2" x2="430.5" y2="292.2" stroke="#1a1a1a" stroke-width="1.3"/>
<line x1="250.6" y1="163.2" x2="430.5" y2="163.2" stroke="#1a1a1a" stroke-width="1.3"/>
<line x1="251.2" y1="163.2" x2="251.2" y2="292.8" stroke="#7a7a7a" stroke-width="1.5"/>
<line x1="430.5" y1="162.6" x2="430.5" y2="292.8" stroke="#e84c58" stroke-width="1.4"/>
<polyline points="264.99,172.4 278.78,185 292.58,193.2 306.37,206.4 320.16,215.6 333.95,214 347.75,226 361.54,237.3 375.33,243.1 389.12,250.2 402.92,254.2 416.71,260.2" fill="none" stroke="#404040" stroke-width="0.8"/>
<polyline points="264.99,172 278.78,192.2 292.58,200 306.37,216.2 320.16,225 333.95,204.5 347.75,223.2 361.54,244.3 375.33,250.4 389.12,265.2 402.92,266.8 416.71,279.4" fill="none" stroke="#e8373f" stroke-width="0.8"/>
<rect x="263.74" y="171.15" width="2.5" height="2.5" fill="#333"/>
<rect x="277.53" y="183.75" width="2.5" height="2.5" fill="#333"/>
<rect x="291.33" y="191.95" width="2.5" height="2.5" fill="#333"/>
<rect x="305.12" y="205.15" width="2.5" height="2.5" fill="#333"/>
<rect x="318.91" y="214.35" width="2.5" height="2.5" fill="#333"/>
<rect x="332.7" y="212.75" width="2.5" height="2.5" fill="#333"/>
<rect x="346.5" y="224.75" width="2.5" height="2.5" fill="#333"/>
<rect x="360.29" y="236.05" width="2.5" height="2.5" fill="#333"/>
<rect x="374.08" y="241.85" width="2.5" height="2.5" fill="#333"/>
<rect x="387.87" y="248.95" width="2.5" height="2.5" fill="#333"/>
<rect x="401.67" y="252.95" width="2.5" height="2.5" fill="#333"/>
<rect x="415.46" y="258.95" width="2.5" height="2.5" fill="#333"/>
<rect x="263.69" y="170.7" width="2.6" height="2.6" fill="#e8373f"/>
<rect x="277.48" y="190.9" width="2.6" height="2.6" fill="#e8373f"/>
<rect x="291.28" y="198.7" width="2.6" height="2.6" fill="#e8373f"/>
<rect x="305.07" y="214.9" width="2.6" height="2.6" fill="#e8373f"/>
<rect x="318.86" y="223.7" width="2.6" height="2.6" fill="#e8373f"/>
<rect x="332.65" y="203.2" width="2.6" height="2.6" fill="#e8373f"/>
<rect x="346.45" y="221.9" width="2.6" height="2.6" fill="#e8373f"/>
<rect x="360.24" y="243" width="2.6" height="2.6" fill="#e8373f"/>
<rect x="374.03" y="249.1" width="2.6" height="2.6" fill="#e8373f"/>
<rect x="387.82" y="263.9" width="2.6" height="2.6" fill="#e8373f"/>
<rect x="401.62" y="265.5" width="2.6" height="2.6" fill="#e8373f"/>
<rect x="415.41" y="278.1" width="2.6" height="2.6" fill="#e8373f"/>
<rect x="338.5" y="170.5" width="45" height="19" fill="#fff" stroke="#a4a4a4" stroke-width="1"/>
<line x1="339.4" y1="175.5" x2="356.2" y2="175.5" stroke="#707070" stroke-width="0.9"/>
<rect x="346.4" y="174.3" width="2.4" height="2.4" fill="#333"/>
<line x1="339.4" y1="184.5" x2="356.2" y2="184.5" stroke="#e85860" stroke-width="0.9"/>
<rect x="346.35" y="183.25" width="2.5" height="2.5" fill="#e8373f"/>
<text x="358.4" y="178.1" class="lg">K</text>
<text x="358.4" y="187.1" class="lg">Density</text>
<text x="341.05" y="312.6" class="xl" textLength="53" lengthAdjust="spacingAndGlyphs">Buffer distance</text>
<text transform="translate(236.9,227.1) rotate(-90)" x="0" y="0" class="yt" font-size="7.8" textLength="48.4" lengthAdjust="spacingAndGlyphs"><tspan>K ( x 10</tspan><tspan dy="-2.81" font-size="4.84">4</tspan><tspan dy="2.81"> km</tspan><tspan dy="-2.81" font-size="4.84">2</tspan><tspan dy="2.81">)</tspan></text>
<text transform="translate(447.4,226.05) rotate(-90)" x="0" y="0" class="yt" font-size="7.8" textLength="49.1" lengthAdjust="spacingAndGlyphs"><tspan>Density ( x 10</tspan><tspan dy="-2.81" font-size="4.84">-2</tspan><tspan dy="2.81">)</tspan></text></g>
<g><line x1="481.3" y1="292.2" x2="481.3" y2="294.8" stroke="#1a1a1a" stroke-width="1"/>
<line x1="481.3" y1="163.2" x2="481.3" y2="165.4" stroke="#1a1a1a" stroke-width="1"/>
<text x="481.3" y="301.7" class="xt" textLength="4.5" lengthAdjust="spacingAndGlyphs">0</text>
<line x1="495.09" y1="292.2" x2="495.09" y2="294" stroke="#1a1a1a" stroke-width="1"/>
<line x1="495.09" y1="163.2" x2="495.09" y2="165.4" stroke="#1a1a1a" stroke-width="1"/>
<line x1="508.88" y1="292.2" x2="508.88" y2="294.8" stroke="#1a1a1a" stroke-width="1"/>
<line x1="508.88" y1="163.2" x2="508.88" y2="165.4" stroke="#1a1a1a" stroke-width="1"/>
<text x="508.88" y="301.7" class="xt" textLength="9" lengthAdjust="spacingAndGlyphs">10</text>
<line x1="522.68" y1="292.2" x2="522.68" y2="294" stroke="#1a1a1a" stroke-width="1"/>
<line x1="522.68" y1="163.2" x2="522.68" y2="165.4" stroke="#1a1a1a" stroke-width="1"/>
<line x1="536.47" y1="292.2" x2="536.47" y2="294.8" stroke="#1a1a1a" stroke-width="1"/>
<line x1="536.47" y1="163.2" x2="536.47" y2="165.4" stroke="#1a1a1a" stroke-width="1"/>
<text x="536.47" y="301.7" class="xt" textLength="9" lengthAdjust="spacingAndGlyphs">20</text>
<line x1="550.26" y1="292.2" x2="550.26" y2="294" stroke="#1a1a1a" stroke-width="1"/>
<line x1="550.26" y1="163.2" x2="550.26" y2="165.4" stroke="#1a1a1a" stroke-width="1"/>
<line x1="564.05" y1="292.2" x2="564.05" y2="294.8" stroke="#1a1a1a" stroke-width="1"/>
<line x1="564.05" y1="163.2" x2="564.05" y2="165.4" stroke="#1a1a1a" stroke-width="1"/>
<text x="564.05" y="301.7" class="xt" textLength="9" lengthAdjust="spacingAndGlyphs">30</text>
<line x1="577.85" y1="292.2" x2="577.85" y2="294" stroke="#1a1a1a" stroke-width="1"/>
<line x1="577.85" y1="163.2" x2="577.85" y2="165.4" stroke="#1a1a1a" stroke-width="1"/>
<line x1="591.64" y1="292.2" x2="591.64" y2="294.8" stroke="#1a1a1a" stroke-width="1"/>
<line x1="591.64" y1="163.2" x2="591.64" y2="165.4" stroke="#1a1a1a" stroke-width="1"/>
<text x="591.64" y="301.7" class="xt" textLength="9" lengthAdjust="spacingAndGlyphs">40</text>
<line x1="605.43" y1="292.2" x2="605.43" y2="294" stroke="#1a1a1a" stroke-width="1"/>
<line x1="605.43" y1="163.2" x2="605.43" y2="165.4" stroke="#1a1a1a" stroke-width="1"/>
<line x1="619.22" y1="292.2" x2="619.22" y2="294.8" stroke="#1a1a1a" stroke-width="1"/>
<line x1="619.22" y1="163.2" x2="619.22" y2="165.4" stroke="#1a1a1a" stroke-width="1"/>
<text x="619.22" y="301.7" class="xt" textLength="9" lengthAdjust="spacingAndGlyphs">50</text>
<line x1="633.02" y1="292.2" x2="633.02" y2="294" stroke="#1a1a1a" stroke-width="1"/>
<line x1="633.02" y1="163.2" x2="633.02" y2="165.4" stroke="#1a1a1a" stroke-width="1"/>
<line x1="646.81" y1="292.2" x2="646.81" y2="294.8" stroke="#1a1a1a" stroke-width="1"/>
<line x1="646.81" y1="163.2" x2="646.81" y2="165.4" stroke="#1a1a1a" stroke-width="1"/>
<text x="646.81" y="301.7" class="xt" textLength="9" lengthAdjust="spacingAndGlyphs">60</text>
<line x1="478.7" y1="292.2" x2="481.3" y2="292.2" stroke="#444" stroke-width="1"/>
<text x="477.1" y="294.8" class="lt" fill="#555555" stroke="#555555">0</text>
<line x1="478.7" y1="249" x2="481.3" y2="249" stroke="#444" stroke-width="1"/>
<text x="477.1" y="251.6" class="lt" fill="#555555" stroke="#555555">1</text>
<line x1="478.7" y1="206.2" x2="481.3" y2="206.2" stroke="#444" stroke-width="1"/>
<text x="477.1" y="208.8" class="lt" fill="#555555" stroke="#555555">2</text>
<line x1="478.7" y1="162.8" x2="481.3" y2="162.8" stroke="#444" stroke-width="1"/>
<text x="477.1" y="165.4" class="lt" fill="#555555" stroke="#555555">3</text>
<line x1="479.7" y1="270.6" x2="481.3" y2="270.6" stroke="#555" stroke-width="1"/>
<line x1="479.7" y1="227.6" x2="481.3" y2="227.6" stroke="#555" stroke-width="1"/>
<line x1="479.7" y1="184.5" x2="481.3" y2="184.5" stroke="#555" stroke-width="1"/>
<line x1="660.6" y1="292" x2="663.2" y2="292" stroke="#e8373f" stroke-width="1"/>
<text x="664.8" y="294.4" class="rt" fill="#e8323a">0</text>
<line x1="660.6" y1="266" x2="663.2" y2="266" stroke="#e8373f" stroke-width="1"/>
<text x="664.8" y="268.4" class="rt" fill="#e8323a">1</text>
<line x1="660.6" y1="240" x2="663.2" y2="240" stroke="#e8373f" stroke-width="1"/>
<text x="664.8" y="242.4" class="rt" fill="#e8323a">2</text>
<line x1="660.6" y1="214.2" x2="663.2" y2="214.2" stroke="#e8373f" stroke-width="1"/>
<text x="664.8" y="216.6" class="rt" fill="#e8323a">3</text>
<line x1="660.6" y1="188.4" x2="663.2" y2="188.4" stroke="#e8373f" stroke-width="1"/>
<text x="664.8" y="190.8" class="rt" fill="#e8323a">4</text>
<line x1="660.6" y1="162.6" x2="663.2" y2="162.6" stroke="#e8373f" stroke-width="1"/>
<text x="664.8" y="165" class="rt" fill="#e8323a">5</text>
<line x1="660.6" y1="279" x2="662.2" y2="279" stroke="#e8373f" stroke-width="1"/>
<line x1="660.6" y1="253" x2="662.2" y2="253" stroke="#e8373f" stroke-width="1"/>
<line x1="660.6" y1="227.1" x2="662.2" y2="227.1" stroke="#e8373f" stroke-width="1"/>
<line x1="660.6" y1="201.3" x2="662.2" y2="201.3" stroke="#e8373f" stroke-width="1"/>
<line x1="660.6" y1="175.5" x2="662.2" y2="175.5" stroke="#e8373f" stroke-width="1"/>
<line x1="480.7" y1="292.2" x2="660.6" y2="292.2" stroke="#1a1a1a" stroke-width="1.3"/>
<line x1="480.7" y1="163.2" x2="660.6" y2="163.2" stroke="#1a1a1a" stroke-width="1.3"/>
<line x1="481.3" y1="163.2" x2="481.3" y2="292.8" stroke="#5e5e5e" stroke-width="1.5"/>
<line x1="660.6" y1="162.6" x2="660.6" y2="292.8" stroke="#e84c58" stroke-width="1.4"/>
<polyline points="495.09,249 508.88,199.2 522.68,195.4 536.47,233 550.26,213.4 564.05,222.2 577.85,292 591.64,282 605.43,262.1 619.22,213.2 633.02,253 646.81,271.8" fill="none" stroke="#404040" stroke-width="0.8"/>
<polyline points="495.09,260.6 508.88,223 522.68,216.4 536.47,242.6 550.26,221 564.05,224.4 577.85,292 591.64,280.7 605.43,255.7 619.22,191.4 633.02,236.6 646.81,260.6" fill="none" stroke="#e8373f" stroke-width="0.8"/>
<rect x="493.84" y="247.75" width="2.5" height="2.5" fill="#333"/>
<rect x="507.63" y="197.95" width="2.5" height="2.5" fill="#333"/>
<rect x="521.43" y="194.15" width="2.5" height="2.5" fill="#333"/>
<rect x="535.22" y="231.75" width="2.5" height="2.5" fill="#333"/>
<rect x="549.01" y="212.15" width="2.5" height="2.5" fill="#333"/>
<rect x="562.8" y="220.95" width="2.5" height="2.5" fill="#333"/>
<rect x="576.6" y="290.75" width="2.5" height="2.5" fill="#333"/>
<rect x="590.39" y="280.75" width="2.5" height="2.5" fill="#333"/>
<rect x="604.18" y="260.85" width="2.5" height="2.5" fill="#333"/>
<rect x="617.97" y="211.95" width="2.5" height="2.5" fill="#333"/>
<rect x="631.77" y="251.75" width="2.5" height="2.5" fill="#333"/>
<rect x="645.56" y="270.55" width="2.5" height="2.5" fill="#333"/>
<rect x="493.79" y="259.3" width="2.6" height="2.6" fill="#e8373f"/>
<rect x="507.58" y="221.7" width="2.6" height="2.6" fill="#e8373f"/>
<rect x="521.38" y="215.1" width="2.6" height="2.6" fill="#e8373f"/>
<rect x="535.17" y="241.3" width="2.6" height="2.6" fill="#e8373f"/>
<rect x="548.96" y="219.7" width="2.6" height="2.6" fill="#e8373f"/>
<rect x="562.75" y="223.1" width="2.6" height="2.6" fill="#e8373f"/>
<rect x="576.55" y="290.7" width="2.6" height="2.6" fill="#e8373f"/>
<rect x="590.34" y="279.4" width="2.6" height="2.6" fill="#e8373f"/>
<rect x="604.13" y="254.4" width="2.6" height="2.6" fill="#e8373f"/>
<rect x="617.92" y="190.1" width="2.6" height="2.6" fill="#e8373f"/>
<rect x="631.72" y="235.3" width="2.6" height="2.6" fill="#e8373f"/>
<rect x="645.51" y="259.3" width="2.6" height="2.6" fill="#e8373f"/>
<rect x="600.5" y="171.5" width="41" height="20" fill="#fff" stroke="#a4a4a4" stroke-width="1"/>
<line x1="601.6" y1="176.5" x2="614.4" y2="176.5" stroke="#707070" stroke-width="0.9"/>
<rect x="606.7" y="175.3" width="2.4" height="2.4" fill="#333"/>
<line x1="601.6" y1="185.5" x2="614.4" y2="185.5" stroke="#e85860" stroke-width="0.9"/>
<rect x="606.65" y="184.25" width="2.5" height="2.5" fill="#e8373f"/>
<text x="616.4" y="179.1" class="lg">J-K</text>
<text x="616.4" y="188.1" class="lg">Density</text>
<text x="571.15" y="312.6" class="xl" textLength="53" lengthAdjust="spacingAndGlyphs">Buffer distance</text>
<text transform="translate(468,225.65) rotate(-90)" x="0" y="0" class="yt" font-size="7.8" textLength="49.9" lengthAdjust="spacingAndGlyphs"><tspan>J-K ( x 10</tspan><tspan dy="-2.81" font-size="4.84">2</tspan><tspan dy="2.81"> km</tspan><tspan dy="-2.81" font-size="4.84">2</tspan><tspan dy="2.81">)</tspan></text>
<text transform="translate(678.4,225.65) rotate(-90)" x="0" y="0" class="yt" font-size="7.8" textLength="54.3" lengthAdjust="spacingAndGlyphs"><tspan>Density ( x 10</tspan><tspan dy="-2.81" font-size="4.84">-4</tspan><tspan dy="2.81">)</tspan></text></g>
<g><line x1="21.1" y1="451" x2="21.1" y2="453.6" stroke="#1a1a1a" stroke-width="1"/>
<line x1="21.1" y1="322" x2="21.1" y2="324.2" stroke="#1a1a1a" stroke-width="1"/>
<text x="21.1" y="460.5" class="xt" textLength="4.5" lengthAdjust="spacingAndGlyphs">0</text>
<line x1="34.89" y1="451" x2="34.89" y2="452.8" stroke="#1a1a1a" stroke-width="1"/>
<line x1="34.89" y1="322" x2="34.89" y2="324.2" stroke="#1a1a1a" stroke-width="1"/>
<line x1="48.68" y1="451" x2="48.68" y2="453.6" stroke="#1a1a1a" stroke-width="1"/>
<line x1="48.68" y1="322" x2="48.68" y2="324.2" stroke="#1a1a1a" stroke-width="1"/>
<text x="48.68" y="460.5" class="xt" textLength="9" lengthAdjust="spacingAndGlyphs">10</text>
<line x1="62.48" y1="451" x2="62.48" y2="452.8" stroke="#1a1a1a" stroke-width="1"/>
<line x1="62.48" y1="322" x2="62.48" y2="324.2" stroke="#1a1a1a" stroke-width="1"/>
<line x1="76.27" y1="451" x2="76.27" y2="453.6" stroke="#1a1a1a" stroke-width="1"/>
<line x1="76.27" y1="322" x2="76.27" y2="324.2" stroke="#1a1a1a" stroke-width="1"/>
<text x="76.27" y="460.5" class="xt" textLength="9" lengthAdjust="spacingAndGlyphs">20</text>
<line x1="90.06" y1="451" x2="90.06" y2="452.8" stroke="#1a1a1a" stroke-width="1"/>
<line x1="90.06" y1="322" x2="90.06" y2="324.2" stroke="#1a1a1a" stroke-width="1"/>
<line x1="103.85" y1="451" x2="103.85" y2="453.6" stroke="#1a1a1a" stroke-width="1"/>
<line x1="103.85" y1="322" x2="103.85" y2="324.2" stroke="#1a1a1a" stroke-width="1"/>
<text x="103.85" y="460.5" class="xt" textLength="9" lengthAdjust="spacingAndGlyphs">30</text>
<line x1="117.65" y1="451" x2="117.65" y2="452.8" stroke="#1a1a1a" stroke-width="1"/>
<line x1="117.65" y1="322" x2="117.65" y2="324.2" stroke="#1a1a1a" stroke-width="1"/>
<line x1="131.44" y1="451" x2="131.44" y2="453.6" stroke="#1a1a1a" stroke-width="1"/>
<line x1="131.44" y1="322" x2="131.44" y2="324.2" stroke="#1a1a1a" stroke-width="1"/>
<text x="131.44" y="460.5" class="xt" textLength="9" lengthAdjust="spacingAndGlyphs">40</text>
<line x1="145.23" y1="451" x2="145.23" y2="452.8" stroke="#1a1a1a" stroke-width="1"/>
<line x1="145.23" y1="322" x2="145.23" y2="324.2" stroke="#1a1a1a" stroke-width="1"/>
<line x1="159.02" y1="451" x2="159.02" y2="453.6" stroke="#1a1a1a" stroke-width="1"/>
<line x1="159.02" y1="322" x2="159.02" y2="324.2" stroke="#1a1a1a" stroke-width="1"/>
<text x="159.02" y="460.5" class="xt" textLength="9" lengthAdjust="spacingAndGlyphs">50</text>
<line x1="172.82" y1="451" x2="172.82" y2="452.8" stroke="#1a1a1a" stroke-width="1"/>
<line x1="172.82" y1="322" x2="172.82" y2="324.2" stroke="#1a1a1a" stroke-width="1"/>
<line x1="186.61" y1="451" x2="186.61" y2="453.6" stroke="#1a1a1a" stroke-width="1"/>
<line x1="186.61" y1="322" x2="186.61" y2="324.2" stroke="#1a1a1a" stroke-width="1"/>
<text x="186.61" y="460.5" class="xt" textLength="9" lengthAdjust="spacingAndGlyphs">60</text>
<line x1="18.5" y1="450.8" x2="21.1" y2="450.8" stroke="#444" stroke-width="1"/>
<text x="16.9" y="453.4" class="lt" fill="#555555" stroke="#555555">4</text>
<line x1="18.5" y1="399" x2="21.1" y2="399" stroke="#444" stroke-width="1"/>
<text x="16.9" y="401.6" class="lt" fill="#555555" stroke="#555555">6</text>
<line x1="18.5" y1="347.4" x2="21.1" y2="347.4" stroke="#444" stroke-width="1"/>
<text x="16.9" y="350" class="lt" fill="#555555" stroke="#555555">8</text>
<line x1="19.5" y1="425" x2="21.1" y2="425" stroke="#555" stroke-width="1"/>
<line x1="19.5" y1="373.2" x2="21.1" y2="373.2" stroke="#555" stroke-width="1"/>
<line x1="19.5" y1="321.6" x2="21.1" y2="321.6" stroke="#555" stroke-width="1"/>
<line x1="200.4" y1="437.4" x2="203" y2="437.4" stroke="#e8373f" stroke-width="1"/>
<text x="204.6" y="439.8" class="rt" fill="#e8323a">8</text>
<line x1="200.4" y1="411.4" x2="203" y2="411.4" stroke="#e8373f" stroke-width="1"/>
<text x="204.6" y="413.8" class="rt" fill="#e8323a">10</text>
<line x1="200.4" y1="385.6" x2="203" y2="385.6" stroke="#e8373f" stroke-width="1"/>
<text x="204.6" y="388" class="rt" fill="#e8323a">12</text>
<line x1="200.4" y1="359.6" x2="203" y2="359.6" stroke="#e8373f" stroke-width="1"/>
<text x="204.6" y="362" class="rt" fill="#e8323a">14</text>
<line x1="200.4" y1="334" x2="203" y2="334" stroke="#e8373f" stroke-width="1"/>
<text x="204.6" y="336.4" class="rt" fill="#e8323a">16</text>
<line x1="200.4" y1="424.4" x2="202" y2="424.4" stroke="#e8373f" stroke-width="1"/>
<line x1="200.4" y1="398.5" x2="202" y2="398.5" stroke="#e8373f" stroke-width="1"/>
<line x1="200.4" y1="372.6" x2="202" y2="372.6" stroke="#e8373f" stroke-width="1"/>
<line x1="200.4" y1="346.8" x2="202" y2="346.8" stroke="#e8373f" stroke-width="1"/>
<line x1="20.5" y1="451" x2="200.4" y2="451" stroke="#1a1a1a" stroke-width="1.3"/>
<line x1="20.5" y1="322" x2="200.4" y2="322" stroke="#1a1a1a" stroke-width="1.3"/>
<line x1="21.1" y1="322" x2="21.1" y2="451.6" stroke="#959595" stroke-width="1.5"/>
<line x1="200.4" y1="321.4" x2="200.4" y2="451.6" stroke="#e84c58" stroke-width="1.4"/>
<polyline points="34.89,377 48.68,354.6 62.48,352.2 76.27,369 90.06,366.6 103.85,341.4 117.65,334.2 131.44,339 145.23,372.2 159.02,422.6 172.82,419.2 186.61,404" fill="none" stroke="#404040" stroke-width="0.8"/>
<polyline points="34.89,433.8 48.68,417.2 62.48,409.4 76.27,412 90.06,400.4 103.85,369.2 117.65,349.2 131.44,339 145.23,357.2 159.02,398.2 172.82,381.6 186.61,347" fill="none" stroke="#e8373f" stroke-width="0.8"/>
<rect x="33.64" y="375.75" width="2.5" height="2.5" fill="#333"/>
<rect x="47.43" y="353.35" width="2.5" height="2.5" fill="#333"/>
<rect x="61.23" y="350.95" width="2.5" height="2.5" fill="#333"/>
<rect x="75.02" y="367.75" width="2.5" height="2.5" fill="#333"/>
<rect x="88.81" y="365.35" width="2.5" height="2.5" fill="#333"/>
<rect x="102.6" y="340.15" width="2.5" height="2.5" fill="#333"/>
<rect x="116.4" y="332.95" width="2.5" height="2.5" fill="#333"/>
<rect x="130.19" y="337.75" width="2.5" height="2.5" fill="#333"/>
<rect x="143.98" y="370.95" width="2.5" height="2.5" fill="#333"/>
<rect x="157.77" y="421.35" width="2.5" height="2.5" fill="#333"/>
<rect x="171.57" y="417.95" width="2.5" height="2.5" fill="#333"/>
<rect x="185.36" y="402.75" width="2.5" height="2.5" fill="#333"/>
<rect x="33.59" y="432.5" width="2.6" height="2.6" fill="#e8373f"/>
<rect x="47.38" y="415.9" width="2.6" height="2.6" fill="#e8373f"/>
<rect x="61.18" y="408.1" width="2.6" height="2.6" fill="#e8373f"/>
<rect x="74.97" y="410.7" width="2.6" height="2.6" fill="#e8373f"/>
<rect x="88.76" y="399.1" width="2.6" height="2.6" fill="#e8373f"/>
<rect x="102.55" y="367.9" width="2.6" height="2.6" fill="#e8373f"/>
<rect x="116.35" y="347.9" width="2.6" height="2.6" fill="#e8373f"/>
<rect x="130.14" y="337.7" width="2.6" height="2.6" fill="#e8373f"/>
<rect x="143.93" y="355.9" width="2.6" height="2.6" fill="#e8373f"/>
<rect x="157.72" y="396.9" width="2.6" height="2.6" fill="#e8373f"/>
<rect x="171.52" y="380.3" width="2.6" height="2.6" fill="#e8373f"/>
<rect x="185.31" y="345.7" width="2.6" height="2.6" fill="#e8373f"/>
<rect x="39.5" y="328.5" width="45" height="19" fill="#fff" stroke="#a4a4a4" stroke-width="1"/>
<line x1="40.2" y1="333.5" x2="57" y2="333.5" stroke="#707070" stroke-width="0.9"/>
<rect x="47.2" y="332.3" width="2.4" height="2.4" fill="#333"/>
<line x1="40.2" y1="342.5" x2="57" y2="342.5" stroke="#e85860" stroke-width="0.9"/>
<rect x="47.15" y="341.25" width="2.5" height="2.5" fill="#e8373f"/>
<text x="59.2" y="336.1" class="lg">J</text>
<text x="59.2" y="345.1" class="lg">Density</text>
<text x="110.95" y="475.5" class="xl" textLength="53" lengthAdjust="spacingAndGlyphs">Buffer distance</text>
<text transform="translate(8.4,385.8) rotate(-90)" x="0" y="0" class="yt" font-size="7.8" textLength="45.2" lengthAdjust="spacingAndGlyphs"><tspan>J ( x 10</tspan><tspan dy="-2.81" font-size="4.84">3</tspan><tspan dy="2.81"> km</tspan><tspan dy="-2.81" font-size="4.84">2</tspan><tspan dy="2.81">)</tspan></text>
<text transform="translate(221.8,384.45) rotate(-90)" x="0" y="0" class="yt" font-size="7.8" textLength="54.7" lengthAdjust="spacingAndGlyphs"><tspan>Density ( x 10</tspan><tspan dy="-2.81" font-size="4.84">-3</tspan><tspan dy="2.81">)</tspan></text></g>
<g><line x1="251.2" y1="451" x2="251.2" y2="453.6" stroke="#1a1a1a" stroke-width="1"/>
<line x1="251.2" y1="322" x2="251.2" y2="324.2" stroke="#1a1a1a" stroke-width="1"/>
<text x="251.2" y="460.5" class="xt" textLength="4.5" lengthAdjust="spacingAndGlyphs">0</text>
<line x1="264.99" y1="451" x2="264.99" y2="452.8" stroke="#1a1a1a" stroke-width="1"/>
<line x1="264.99" y1="322" x2="264.99" y2="324.2" stroke="#1a1a1a" stroke-width="1"/>
<line x1="278.78" y1="451" x2="278.78" y2="453.6" stroke="#1a1a1a" stroke-width="1"/>
<line x1="278.78" y1="322" x2="278.78" y2="324.2" stroke="#1a1a1a" stroke-width="1"/>
<text x="278.78" y="460.5" class="xt" textLength="9" lengthAdjust="spacingAndGlyphs">10</text>
<line x1="292.58" y1="451" x2="292.58" y2="452.8" stroke="#1a1a1a" stroke-width="1"/>
<line x1="292.58" y1="322" x2="292.58" y2="324.2" stroke="#1a1a1a" stroke-width="1"/>
<line x1="306.37" y1="451" x2="306.37" y2="453.6" stroke="#1a1a1a" stroke-width="1"/>
<line x1="306.37" y1="322" x2="306.37" y2="324.2" stroke="#1a1a1a" stroke-width="1"/>
<text x="306.37" y="460.5" class="xt" textLength="9" lengthAdjust="spacingAndGlyphs">20</text>
<line x1="320.16" y1="451" x2="320.16" y2="452.8" stroke="#1a1a1a" stroke-width="1"/>
<line x1="320.16" y1="322" x2="320.16" y2="324.2" stroke="#1a1a1a" stroke-width="1"/>
<line x1="333.95" y1="451" x2="333.95" y2="453.6" stroke="#1a1a1a" stroke-width="1"/>
<line x1="333.95" y1="322" x2="333.95" y2="324.2" stroke="#1a1a1a" stroke-width="1"/>
<text x="333.95" y="460.5" class="xt" textLength="9" lengthAdjust="spacingAndGlyphs">30</text>
<line x1="347.75" y1="451" x2="347.75" y2="452.8" stroke="#1a1a1a" stroke-width="1"/>
<line x1="347.75" y1="322" x2="347.75" y2="324.2" stroke="#1a1a1a" stroke-width="1"/>
<line x1="361.54" y1="451" x2="361.54" y2="453.6" stroke="#1a1a1a" stroke-width="1"/>
<line x1="361.54" y1="322" x2="361.54" y2="324.2" stroke="#1a1a1a" stroke-width="1"/>
<text x="361.54" y="460.5" class="xt" textLength="9" lengthAdjust="spacingAndGlyphs">40</text>
<line x1="375.33" y1="451" x2="375.33" y2="452.8" stroke="#1a1a1a" stroke-width="1"/>
<line x1="375.33" y1="322" x2="375.33" y2="324.2" stroke="#1a1a1a" stroke-width="1"/>
<line x1="389.12" y1="451" x2="389.12" y2="453.6" stroke="#1a1a1a" stroke-width="1"/>
<line x1="389.12" y1="322" x2="389.12" y2="324.2" stroke="#1a1a1a" stroke-width="1"/>
<text x="389.12" y="460.5" class="xt" textLength="9" lengthAdjust="spacingAndGlyphs">50</text>
<line x1="402.92" y1="451" x2="402.92" y2="452.8" stroke="#1a1a1a" stroke-width="1"/>
<line x1="402.92" y1="322" x2="402.92" y2="324.2" stroke="#1a1a1a" stroke-width="1"/>
<line x1="416.71" y1="451" x2="416.71" y2="453.6" stroke="#1a1a1a" stroke-width="1"/>
<line x1="416.71" y1="322" x2="416.71" y2="324.2" stroke="#1a1a1a" stroke-width="1"/>
<text x="416.71" y="460.5" class="xt" textLength="9" lengthAdjust="spacingAndGlyphs">60</text>
<line x1="248.6" y1="450.8" x2="251.2" y2="450.8" stroke="#444" stroke-width="1"/>
<text x="247" y="453.4" class="lt" fill="#555555" stroke="#555555">0</text>
<line x1="248.6" y1="399.2" x2="251.2" y2="399.2" stroke="#444" stroke-width="1"/>
<text x="247" y="401.8" class="lt" fill="#555555" stroke="#555555">1</text>
<line x1="248.6" y1="347.4" x2="251.2" y2="347.4" stroke="#444" stroke-width="1"/>
<text x="247" y="350" class="lt" fill="#555555" stroke="#555555">2</text>
<line x1="249.6" y1="425" x2="251.2" y2="425" stroke="#555" stroke-width="1"/>
<line x1="249.6" y1="373.3" x2="251.2" y2="373.3" stroke="#555" stroke-width="1"/>
<line x1="249.6" y1="321.6" x2="251.2" y2="321.6" stroke="#555" stroke-width="1"/>
<line x1="430.5" y1="450.6" x2="433.1" y2="450.6" stroke="#e8373f" stroke-width="1"/>
<text x="434.7" y="453" class="rt" fill="#e8323a">0</text>
<line x1="430.5" y1="419.8" x2="433.1" y2="419.8" stroke="#e8373f" stroke-width="1"/>
<text x="434.7" y="422.2" class="rt" fill="#e8323a">1</text>
<line x1="430.5" y1="389.8" x2="433.1" y2="389.8" stroke="#e8373f" stroke-width="1"/>
<text x="434.7" y="392.2" class="rt" fill="#e8323a">2</text>
<line x1="430.5" y1="359" x2="433.1" y2="359" stroke="#e8373f" stroke-width="1"/>
<text x="434.7" y="361.4" class="rt" fill="#e8323a">3</text>
<line x1="430.5" y1="329" x2="433.1" y2="329" stroke="#e8373f" stroke-width="1"/>
<text x="434.7" y="331.4" class="rt" fill="#e8323a">4</text>
<line x1="430.5" y1="435.2" x2="432.1" y2="435.2" stroke="#e8373f" stroke-width="1"/>
<line x1="430.5" y1="404.8" x2="432.1" y2="404.8" stroke="#e8373f" stroke-width="1"/>
<line x1="430.5" y1="374.4" x2="432.1" y2="374.4" stroke="#e8373f" stroke-width="1"/>
<line x1="430.5" y1="344" x2="432.1" y2="344" stroke="#e8373f" stroke-width="1"/>
<line x1="250.6" y1="451" x2="430.5" y2="451" stroke="#1a1a1a" stroke-width="1.3"/>
<line x1="250.6" y1="322" x2="430.5" y2="322" stroke="#1a1a1a" stroke-width="1.3"/>
<line x1="251.2" y1="322" x2="251.2" y2="451.6" stroke="#7a7a7a" stroke-width="1.5"/>
<line x1="430.5" y1="321.4" x2="430.5" y2="451.6" stroke="#e84c58" stroke-width="1.4"/>
<polyline points="264.99,380.6 278.78,382 292.58,364.6 306.37,360 320.16,359.2 333.95,348 347.75,336 361.54,351.6 375.33,383.3 389.12,392.2 402.92,412.6 416.71,426.6" fill="none" stroke="#404040" stroke-width="0.8"/>
<polyline points="264.99,400.7 278.78,400.5 292.58,384.9 306.37,376.2 320.16,370 333.95,352 347.75,333 361.54,341 375.33,370.2 389.12,376 402.92,397.8 416.71,413.4" fill="none" stroke="#e8373f" stroke-width="0.8"/>
<rect x="263.74" y="379.35" width="2.5" height="2.5" fill="#333"/>
<rect x="277.53" y="380.75" width="2.5" height="2.5" fill="#333"/>
<rect x="291.33" y="363.35" width="2.5" height="2.5" fill="#333"/>
<rect x="305.12" y="358.75" width="2.5" height="2.5" fill="#333"/>
<rect x="318.91" y="357.95" width="2.5" height="2.5" fill="#333"/>
<rect x="332.7" y="346.75" width="2.5" height="2.5" fill="#333"/>
<rect x="346.5" y="334.75" width="2.5" height="2.5" fill="#333"/>
<rect x="360.29" y="350.35" width="2.5" height="2.5" fill="#333"/>
<rect x="374.08" y="382.05" width="2.5" height="2.5" fill="#333"/>
<rect x="387.87" y="390.95" width="2.5" height="2.5" fill="#333"/>
<rect x="401.67" y="411.35" width="2.5" height="2.5" fill="#333"/>
<rect x="415.46" y="425.35" width="2.5" height="2.5" fill="#333"/>
<rect x="263.69" y="399.4" width="2.6" height="2.6" fill="#e8373f"/>
<rect x="277.48" y="399.2" width="2.6" height="2.6" fill="#e8373f"/>
<rect x="291.28" y="383.6" width="2.6" height="2.6" fill="#e8373f"/>
<rect x="305.07" y="374.9" width="2.6" height="2.6" fill="#e8373f"/>
<rect x="318.86" y="368.7" width="2.6" height="2.6" fill="#e8373f"/>
<rect x="332.65" y="350.7" width="2.6" height="2.6" fill="#e8373f"/>
<rect x="346.45" y="331.7" width="2.6" height="2.6" fill="#e8373f"/>
<rect x="360.24" y="339.7" width="2.6" height="2.6" fill="#e8373f"/>
<rect x="374.03" y="368.9" width="2.6" height="2.6" fill="#e8373f"/>
<rect x="387.82" y="374.7" width="2.6" height="2.6" fill="#e8373f"/>
<rect x="401.62" y="396.5" width="2.6" height="2.6" fill="#e8373f"/>
<rect x="415.41" y="412.1" width="2.6" height="2.6" fill="#e8373f"/>
<rect x="296.5" y="328.5" width="46" height="20" fill="#fff" stroke="#a4a4a4" stroke-width="1"/>
<line x1="297.6" y1="333.5" x2="314.4" y2="333.5" stroke="#707070" stroke-width="0.9"/>
<rect x="304.6" y="332.3" width="2.4" height="2.4" fill="#333"/>
<line x1="297.6" y1="343.5" x2="314.4" y2="343.5" stroke="#e85860" stroke-width="0.9"/>
<rect x="304.55" y="342.25" width="2.5" height="2.5" fill="#e8373f"/>
<text x="316.6" y="336.1" class="lg">T</text>
<text x="316.6" y="346.1" class="lg">Density</text>
<text x="341.05" y="475.5" class="xl" textLength="53" lengthAdjust="spacingAndGlyphs">Buffer distance</text>
<text transform="translate(238,386) rotate(-90)" x="0" y="0" class="yt" font-size="7.8" textLength="41.8" lengthAdjust="spacingAndGlyphs"><tspan>T ( x 10</tspan><tspan dy="-2.81" font-size="4.84">3</tspan><tspan dy="2.81"> km</tspan><tspan dy="-2.81" font-size="4.84">2</tspan><tspan dy="2.81">)</tspan></text>
<text transform="translate(447.1,384.9) rotate(-90)" x="0" y="0" class="yt" font-size="7.8" textLength="48.4" lengthAdjust="spacingAndGlyphs"><tspan>Density ( x 10</tspan><tspan dy="-2.81" font-size="4.84">-3</tspan><tspan dy="2.81">)</tspan></text></g>
<g><line x1="481.3" y1="451" x2="481.3" y2="453.6" stroke="#1a1a1a" stroke-width="1"/>
<line x1="481.3" y1="322" x2="481.3" y2="324.2" stroke="#1a1a1a" stroke-width="1"/>
<text x="481.3" y="460.5" class="xt" textLength="4.5" lengthAdjust="spacingAndGlyphs">0</text>
<line x1="495.09" y1="451" x2="495.09" y2="452.8" stroke="#1a1a1a" stroke-width="1"/>
<line x1="495.09" y1="322" x2="495.09" y2="324.2" stroke="#1a1a1a" stroke-width="1"/>
<line x1="508.88" y1="451" x2="508.88" y2="453.6" stroke="#1a1a1a" stroke-width="1"/>
<line x1="508.88" y1="322" x2="508.88" y2="324.2" stroke="#1a1a1a" stroke-width="1"/>
<text x="508.88" y="460.5" class="xt" textLength="9" lengthAdjust="spacingAndGlyphs">10</text>
<line x1="522.68" y1="451" x2="522.68" y2="452.8" stroke="#1a1a1a" stroke-width="1"/>
<line x1="522.68" y1="322" x2="522.68" y2="324.2" stroke="#1a1a1a" stroke-width="1"/>
<line x1="536.47" y1="451" x2="536.47" y2="453.6" stroke="#1a1a1a" stroke-width="1"/>
<line x1="536.47" y1="322" x2="536.47" y2="324.2" stroke="#1a1a1a" stroke-width="1"/>
<text x="536.47" y="460.5" class="xt" textLength="9" lengthAdjust="spacingAndGlyphs">20</text>
<line x1="550.26" y1="451" x2="550.26" y2="452.8" stroke="#1a1a1a" stroke-width="1"/>
<line x1="550.26" y1="322" x2="550.26" y2="324.2" stroke="#1a1a1a" stroke-width="1"/>
<line x1="564.05" y1="451" x2="564.05" y2="453.6" stroke="#1a1a1a" stroke-width="1"/>
<line x1="564.05" y1="322" x2="564.05" y2="324.2" stroke="#1a1a1a" stroke-width="1"/>
<text x="564.05" y="460.5" class="xt" textLength="9" lengthAdjust="spacingAndGlyphs">30</text>
<line x1="577.85" y1="451" x2="577.85" y2="452.8" stroke="#1a1a1a" stroke-width="1"/>
<line x1="577.85" y1="322" x2="577.85" y2="324.2" stroke="#1a1a1a" stroke-width="1"/>
<line x1="591.64" y1="451" x2="591.64" y2="453.6" stroke="#1a1a1a" stroke-width="1"/>
<line x1="591.64" y1="322" x2="591.64" y2="324.2" stroke="#1a1a1a" stroke-width="1"/>
<text x="591.64" y="460.5" class="xt" textLength="9" lengthAdjust="spacingAndGlyphs">40</text>
<line x1="605.43" y1="451" x2="605.43" y2="452.8" stroke="#1a1a1a" stroke-width="1"/>
<line x1="605.43" y1="322" x2="605.43" y2="324.2" stroke="#1a1a1a" stroke-width="1"/>
<line x1="619.22" y1="451" x2="619.22" y2="453.6" stroke="#1a1a1a" stroke-width="1"/>
<line x1="619.22" y1="322" x2="619.22" y2="324.2" stroke="#1a1a1a" stroke-width="1"/>
<text x="619.22" y="460.5" class="xt" textLength="9" lengthAdjust="spacingAndGlyphs">50</text>
<line x1="633.02" y1="451" x2="633.02" y2="452.8" stroke="#1a1a1a" stroke-width="1"/>
<line x1="633.02" y1="322" x2="633.02" y2="324.2" stroke="#1a1a1a" stroke-width="1"/>
<line x1="646.81" y1="451" x2="646.81" y2="453.6" stroke="#1a1a1a" stroke-width="1"/>
<line x1="646.81" y1="322" x2="646.81" y2="324.2" stroke="#1a1a1a" stroke-width="1"/>
<text x="646.81" y="460.5" class="xt" textLength="9" lengthAdjust="spacingAndGlyphs">60</text>
<line x1="478.7" y1="450.6" x2="481.3" y2="450.6" stroke="#444" stroke-width="1"/>
<text x="477.1" y="453.2" class="lt" fill="#555555" stroke="#555555">2</text>
<line x1="478.7" y1="411" x2="481.3" y2="411" stroke="#444" stroke-width="1"/>
<text x="477.1" y="413.6" class="lt" fill="#555555" stroke="#555555">4</text>
<line x1="478.7" y1="371" x2="481.3" y2="371" stroke="#444" stroke-width="1"/>
<text x="477.1" y="373.6" class="lt" fill="#555555" stroke="#555555">6</text>
<line x1="478.7" y1="331" x2="481.3" y2="331" stroke="#444" stroke-width="1"/>
<text x="477.1" y="333.6" class="lt" fill="#555555" stroke="#555555">8</text>
<line x1="479.7" y1="431" x2="481.3" y2="431" stroke="#555" stroke-width="1"/>
<line x1="479.7" y1="391" x2="481.3" y2="391" stroke="#555" stroke-width="1"/>
<line x1="479.7" y1="351" x2="481.3" y2="351" stroke="#555" stroke-width="1"/>
<line x1="660.6" y1="450.4" x2="663.2" y2="450.4" stroke="#e8373f" stroke-width="1"/>
<text x="664.8" y="452.8" class="rt" fill="#e8323a">6</text>
<line x1="660.6" y1="418" x2="663.2" y2="418" stroke="#e8373f" stroke-width="1"/>
<text x="664.8" y="420.4" class="rt" fill="#e8323a">7</text>
<line x1="660.6" y1="386" x2="663.2" y2="386" stroke="#e8373f" stroke-width="1"/>
<text x="664.8" y="388.4" class="rt" fill="#e8323a">8</text>
<line x1="660.6" y1="353.6" x2="663.2" y2="353.6" stroke="#e8373f" stroke-width="1"/>
<text x="664.8" y="356" class="rt" fill="#e8323a">9</text>
<line x1="660.6" y1="321.6" x2="663.2" y2="321.6" stroke="#e8373f" stroke-width="1"/>
<text x="664.8" y="324" class="rt" fill="#e8323a">10</text>
<line x1="660.6" y1="434.2" x2="662.2" y2="434.2" stroke="#e8373f" stroke-width="1"/>
<line x1="660.6" y1="402" x2="662.2" y2="402" stroke="#e8373f" stroke-width="1"/>
<line x1="660.6" y1="369.8" x2="662.2" y2="369.8" stroke="#e8373f" stroke-width="1"/>
<line x1="660.6" y1="337.6" x2="662.2" y2="337.6" stroke="#e8373f" stroke-width="1"/>
<line x1="480.7" y1="451" x2="660.6" y2="451" stroke="#1a1a1a" stroke-width="1.3"/>
<line x1="480.7" y1="322" x2="660.6" y2="322" stroke="#1a1a1a" stroke-width="1.3"/>
<line x1="481.3" y1="322" x2="481.3" y2="451.6" stroke="#5a5a5a" stroke-width="1.5"/>
<line x1="660.6" y1="321.4" x2="660.6" y2="451.6" stroke="#e84c58" stroke-width="1.4"/>
<polyline points="495.09,336.6 508.88,345.6 522.68,353.6 536.47,370.6 550.26,384.4 564.05,382.1 577.85,393.6 591.64,404.7 605.43,414.6 619.22,425.2 633.02,431.2 646.81,439.6" fill="none" stroke="#404040" stroke-width="0.8"/>
<polyline points="495.09,341 508.88,351 522.68,354.6 536.47,373 550.26,385.6 564.05,359.8 577.85,369.2 591.64,384 605.43,394.9 619.22,413.6 633.02,416 646.81,429.6" fill="none" stroke="#e8373f" stroke-width="0.8"/>
<rect x="493.84" y="335.35" width="2.5" height="2.5" fill="#333"/>
<rect x="507.63" y="344.35" width="2.5" height="2.5" fill="#333"/>
<rect x="521.43" y="352.35" width="2.5" height="2.5" fill="#333"/>
<rect x="535.22" y="369.35" width="2.5" height="2.5" fill="#333"/>
<rect x="549.01" y="383.15" width="2.5" height="2.5" fill="#333"/>
<rect x="562.8" y="380.85" width="2.5" height="2.5" fill="#333"/>
<rect x="576.6" y="392.35" width="2.5" height="2.5" fill="#333"/>
<rect x="590.39" y="403.45" width="2.5" height="2.5" fill="#333"/>
<rect x="604.18" y="413.35" width="2.5" height="2.5" fill="#333"/>
<rect x="617.97" y="423.95" width="2.5" height="2.5" fill="#333"/>
<rect x="631.77" y="429.95" width="2.5" height="2.5" fill="#333"/>
<rect x="645.56" y="438.35" width="2.5" height="2.5" fill="#333"/>
<rect x="493.79" y="339.7" width="2.6" height="2.6" fill="#e8373f"/>
<rect x="507.58" y="349.7" width="2.6" height="2.6" fill="#e8373f"/>
<rect x="521.38" y="353.3" width="2.6" height="2.6" fill="#e8373f"/>
<rect x="535.17" y="371.7" width="2.6" height="2.6" fill="#e8373f"/>
<rect x="548.96" y="384.3" width="2.6" height="2.6" fill="#e8373f"/>
<rect x="562.75" y="358.5" width="2.6" height="2.6" fill="#e8373f"/>
<rect x="576.55" y="367.9" width="2.6" height="2.6" fill="#e8373f"/>
<rect x="590.34" y="382.7" width="2.6" height="2.6" fill="#e8373f"/>
<rect x="604.13" y="393.6" width="2.6" height="2.6" fill="#e8373f"/>
<rect x="617.92" y="412.3" width="2.6" height="2.6" fill="#e8373f"/>
<rect x="631.72" y="414.7" width="2.6" height="2.6" fill="#e8373f"/>
<rect x="645.51" y="428.3" width="2.6" height="2.6" fill="#e8373f"/>
<rect x="600.5" y="329.5" width="45" height="20" fill="#fff" stroke="#a4a4a4" stroke-width="1"/>
<line x1="601.6" y1="334.5" x2="618.4" y2="334.5" stroke="#707070" stroke-width="0.9"/>
<rect x="608.6" y="333.3" width="2.4" height="2.4" fill="#333"/>
<line x1="601.6" y1="344.5" x2="618.4" y2="344.5" stroke="#e85860" stroke-width="0.9"/>
<rect x="608.55" y="343.25" width="2.5" height="2.5" fill="#e8373f"/>
<text x="620.6" y="337.1" class="lg">Total</text>
<text x="620.6" y="347.1" class="lg">Density</text>
<text x="571.15" y="475.5" class="xl" textLength="53" lengthAdjust="spacingAndGlyphs">Buffer distance</text>
<text transform="translate(468.7,385.65) rotate(-90)" x="0" y="0" class="yt" font-size="7.8" textLength="58.7" lengthAdjust="spacingAndGlyphs"><tspan>Total ( x 10</tspan><tspan dy="-2.81" font-size="4.84">4</tspan><tspan dy="2.81"> km</tspan><tspan dy="-2.81" font-size="4.84">2</tspan><tspan dy="2.81">)</tspan></text>
<text transform="translate(682.4,384.95) rotate(-90)" x="0" y="0" class="yt" font-size="7.8" textLength="54.3" lengthAdjust="spacingAndGlyphs"><tspan>Density ( x 10</tspan><tspan dy="-2.81" font-size="4.84">-2</tspan><tspan dy="2.81">)</tspan></text></g>
</svg></body></html>
